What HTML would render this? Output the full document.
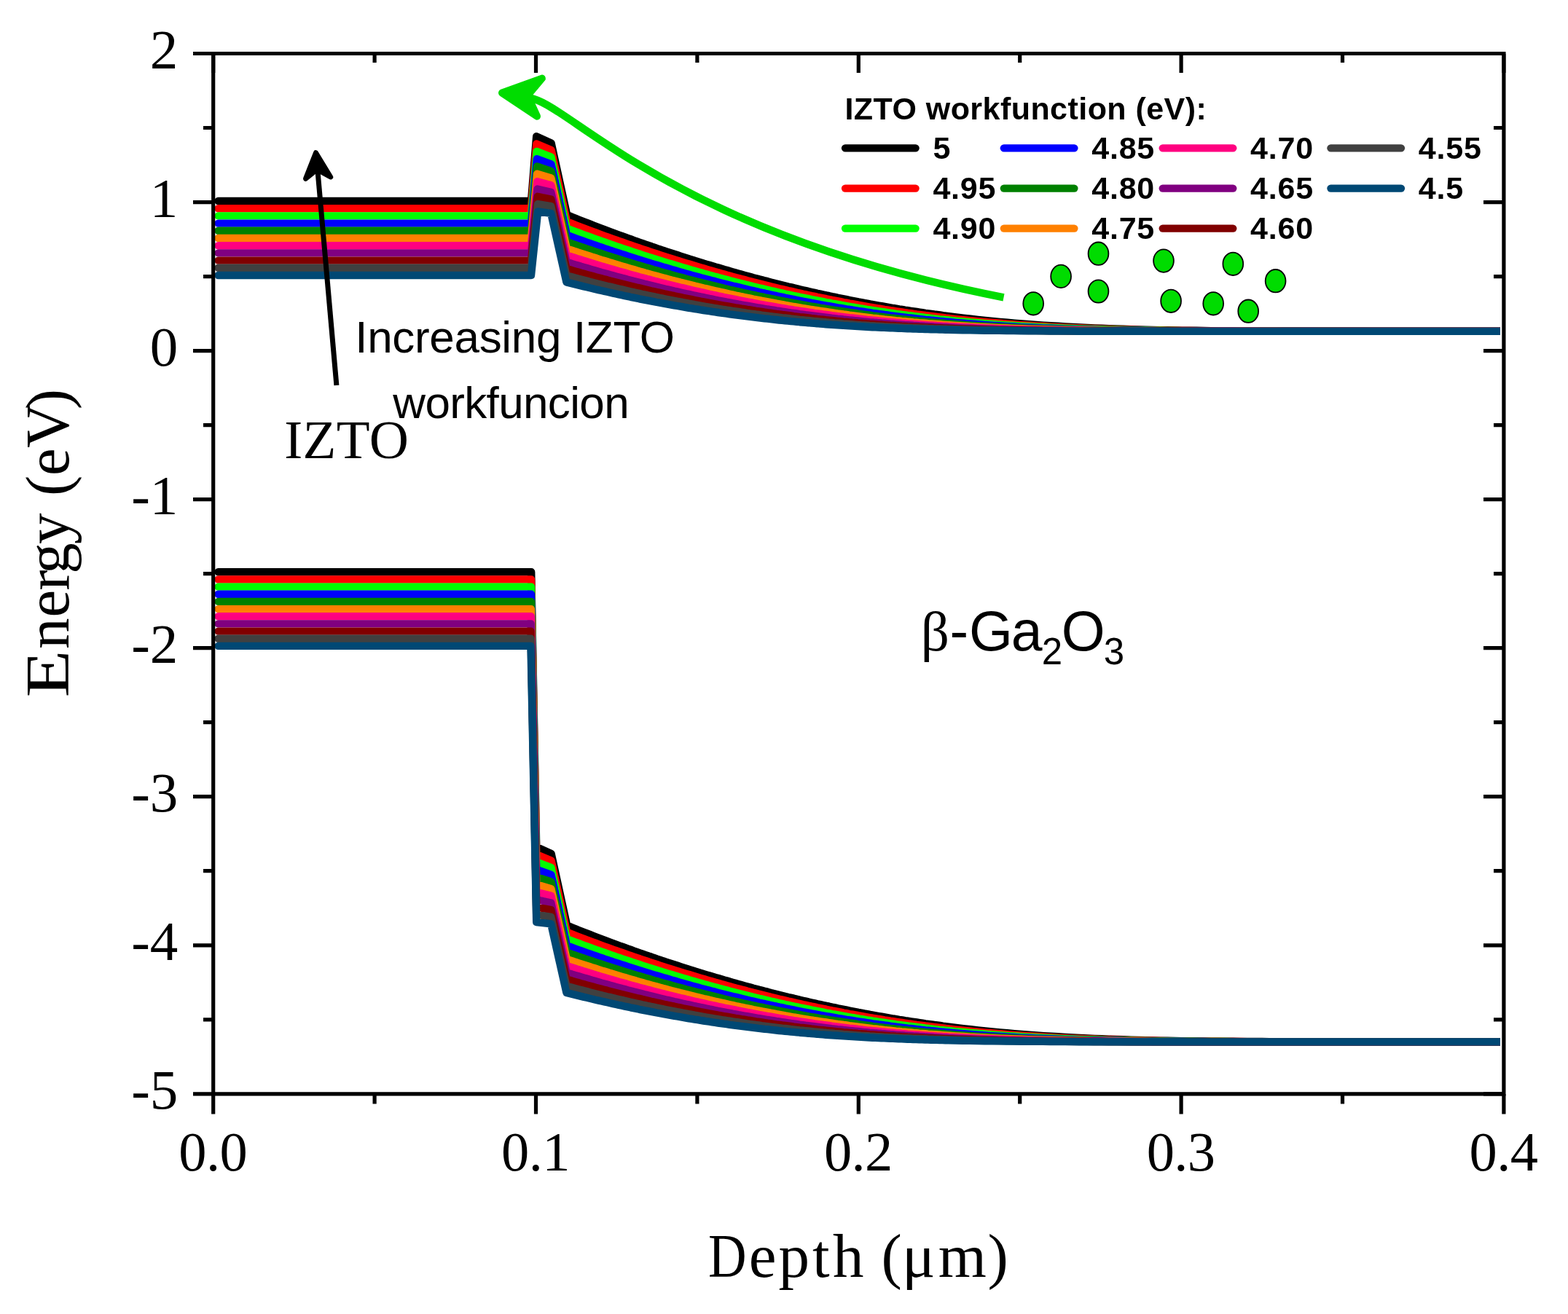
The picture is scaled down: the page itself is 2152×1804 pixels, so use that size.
<!DOCTYPE html><html><head><meta charset="utf-8"><title>IZTO band diagram</title><style>html,body{margin:0;padding:0;background:#fff;width:2152px;height:1804px;overflow:hidden}svg{display:block}.ser{font-family:"Liberation Serif","Times New Roman",serif}.san{font-family:"Liberation Sans",Arial,sans-serif}</style></head><body>
<svg width="2152" height="1804" viewBox="0 0 2152 1804">
<rect width="2152" height="1804" fill="#fff"/>
<defs><clipPath id="pc"><rect x="200" y="60" width="1859" height="1440"/></clipPath></defs>
<g clip-path="url(#pc)" fill="none" stroke-width="10.4" stroke-linecap="round" stroke-linejoin="round">
<path stroke="#000000" d="M299.5,276.0 L729.0,276.0 L736.2,187.2 L756.6,196.4 L778.2,295.1 L782.2,296.7 L786.2,298.3 L790.2,299.9 L794.2,301.5 L798.2,303.1 L802.2,304.6 L806.2,306.2 L810.2,307.7 L814.2,309.3 L818.2,310.8 L822.2,312.3 L826.2,313.8 L830.2,315.4 L834.2,316.9 L838.2,318.3 L842.2,319.8 L846.2,321.3 L850.2,322.8 L854.2,324.2 L858.2,325.7 L862.2,327.1 L866.2,328.5 L870.2,330.0 L874.2,331.4 L878.2,332.8 L882.2,334.2 L886.2,335.6 L890.2,337.0 L894.2,338.3 L898.2,339.7 L902.2,341.1 L906.2,342.4 L910.2,343.8 L914.2,345.1 L918.2,346.4 L922.2,347.7 L926.2,349.0 L930.2,350.3 L934.2,351.6 L938.2,352.9 L942.2,354.2 L946.2,355.5 L950.2,356.7 L954.2,358.0 L958.2,359.2 L962.2,360.4 L966.2,361.7 L970.2,362.9 L974.2,364.1 L978.2,365.3 L982.2,366.5 L986.2,367.6 L990.2,368.8 L994.2,370.0 L998.2,371.1 L1002.2,372.3 L1006.2,373.4 L1010.2,374.6 L1014.2,375.7 L1018.2,376.8 L1022.2,377.9 L1026.2,379.0 L1030.2,380.1 L1034.2,381.2 L1038.2,382.2 L1042.2,383.3 L1046.2,384.3 L1050.2,385.4 L1054.2,386.4 L1058.2,387.5 L1062.2,388.5 L1066.2,389.5 L1070.2,390.5 L1074.2,391.5 L1078.2,392.5 L1082.2,393.5 L1086.2,394.4 L1090.2,395.4 L1094.2,396.3 L1098.2,397.3 L1102.2,398.2 L1106.2,399.1 L1110.2,400.1 L1114.2,401.0 L1118.2,401.9 L1122.2,402.8 L1126.2,403.6 L1130.2,404.5 L1134.2,405.4 L1138.2,406.2 L1142.2,407.1 L1146.2,407.9 L1150.2,408.8 L1154.2,409.6 L1158.2,410.4 L1162.2,411.2 L1166.2,412.0 L1170.2,412.8 L1174.2,413.6 L1178.2,414.4 L1182.2,415.1 L1186.2,415.9 L1190.2,416.6 L1194.2,417.4 L1198.2,418.1 L1202.2,418.8 L1206.2,419.5 L1210.2,420.2 L1214.2,420.9 L1218.2,421.6 L1222.2,422.3 L1226.2,423.0 L1230.2,423.6 L1234.2,424.3 L1238.2,424.9 L1242.2,425.6 L1246.2,426.2 L1250.2,426.8 L1254.2,427.4 L1258.2,428.0 L1262.2,428.6 L1266.2,429.2 L1270.2,429.8 L1274.2,430.3 L1278.2,430.9 L1282.2,431.5 L1286.2,432.0 L1290.2,432.5 L1294.2,433.1 L1298.2,433.6 L1302.2,434.1 L1312.2,435.4 L1322.2,436.6 L1332.2,437.7 L1342.2,438.8 L1352.2,439.8 L1362.2,440.8 L1372.2,441.8 L1382.2,442.7 L1392.2,443.6 L1402.2,444.4 L1412.2,445.2 L1422.2,445.9 L1432.2,446.6 L1442.2,447.2 L1452.2,447.8 L1462.2,448.4 L1472.2,449.0 L1482.2,449.5 L1492.2,449.9 L1502.2,450.4 L1512.2,450.8 L1522.2,451.1 L1532.2,451.5 L1542.2,451.8 L1552.2,452.1 L1562.2,452.4 L1572.2,452.6 L1582.2,452.9 L1592.2,453.1 L1602.2,453.2 L1612.2,453.4 L1622.2,453.6 L1632.2,453.7 L1642.2,453.8 L1652.2,454.0 L1662.2,454.1 L1672.2,454.2 L1682.2,454.2 L1692.2,454.3 L1702.2,454.4 L1712.2,454.4 L1722.2,454.5 L1732.2,454.5 L1742.2,454.6 L1752.2,454.6 L1762.2,454.7 L1772.2,454.7 L1782.2,454.7 L1792.2,454.7 L1802.2,454.8 L1812.2,454.8 L1822.2,454.8 L1832.2,454.8 L1842.2,454.8 L1852.2,454.8 L1862.2,454.8 L1872.2,454.8 L1882.2,454.9 L1892.2,454.9 L1902.2,454.9 L1912.2,454.9 L1922.2,454.9 L1932.2,454.9 L1942.2,454.9 L1952.2,454.9 L1962.2,454.9 L1972.2,454.9 L1982.2,454.9 L1992.2,454.9 L2002.2,454.9 L2012.2,454.9 L2022.2,454.9 L2032.2,454.9 L2042.2,454.9 L2052.2,454.9 L2062.2,454.9 L2072.2,454.9"/>
<path stroke="#000000" d="M299.5,785.3 L729.2,785.3 L736.2,1162.7 L756.6,1171.9 L778.2,1270.6 L782.2,1272.2 L786.2,1273.8 L790.2,1275.4 L794.2,1277.0 L798.2,1278.6 L802.2,1280.1 L806.2,1281.7 L810.2,1283.2 L814.2,1284.8 L818.2,1286.3 L822.2,1287.8 L826.2,1289.3 L830.2,1290.9 L834.2,1292.4 L838.2,1293.8 L842.2,1295.3 L846.2,1296.8 L850.2,1298.3 L854.2,1299.7 L858.2,1301.2 L862.2,1302.6 L866.2,1304.0 L870.2,1305.5 L874.2,1306.9 L878.2,1308.3 L882.2,1309.7 L886.2,1311.1 L890.2,1312.5 L894.2,1313.8 L898.2,1315.2 L902.2,1316.6 L906.2,1317.9 L910.2,1319.3 L914.2,1320.6 L918.2,1321.9 L922.2,1323.2 L926.2,1324.5 L930.2,1325.8 L934.2,1327.1 L938.2,1328.4 L942.2,1329.7 L946.2,1331.0 L950.2,1332.2 L954.2,1333.5 L958.2,1334.7 L962.2,1335.9 L966.2,1337.2 L970.2,1338.4 L974.2,1339.6 L978.2,1340.8 L982.2,1342.0 L986.2,1343.1 L990.2,1344.3 L994.2,1345.5 L998.2,1346.6 L1002.2,1347.8 L1006.2,1348.9 L1010.2,1350.1 L1014.2,1351.2 L1018.2,1352.3 L1022.2,1353.4 L1026.2,1354.5 L1030.2,1355.6 L1034.2,1356.7 L1038.2,1357.7 L1042.2,1358.8 L1046.2,1359.8 L1050.2,1360.9 L1054.2,1361.9 L1058.2,1363.0 L1062.2,1364.0 L1066.2,1365.0 L1070.2,1366.0 L1074.2,1367.0 L1078.2,1368.0 L1082.2,1369.0 L1086.2,1369.9 L1090.2,1370.9 L1094.2,1371.8 L1098.2,1372.8 L1102.2,1373.7 L1106.2,1374.6 L1110.2,1375.6 L1114.2,1376.5 L1118.2,1377.4 L1122.2,1378.3 L1126.2,1379.1 L1130.2,1380.0 L1134.2,1380.9 L1138.2,1381.7 L1142.2,1382.6 L1146.2,1383.4 L1150.2,1384.3 L1154.2,1385.1 L1158.2,1385.9 L1162.2,1386.7 L1166.2,1387.5 L1170.2,1388.3 L1174.2,1389.1 L1178.2,1389.9 L1182.2,1390.6 L1186.2,1391.4 L1190.2,1392.1 L1194.2,1392.9 L1198.2,1393.6 L1202.2,1394.3 L1206.2,1395.0 L1210.2,1395.7 L1214.2,1396.4 L1218.2,1397.1 L1222.2,1397.8 L1226.2,1398.5 L1230.2,1399.1 L1234.2,1399.8 L1238.2,1400.4 L1242.2,1401.1 L1246.2,1401.7 L1250.2,1402.3 L1254.2,1402.9 L1258.2,1403.5 L1262.2,1404.1 L1266.2,1404.7 L1270.2,1405.3 L1274.2,1405.8 L1278.2,1406.4 L1282.2,1407.0 L1286.2,1407.5 L1290.2,1408.0 L1294.2,1408.6 L1298.2,1409.1 L1302.2,1409.6 L1312.2,1410.9 L1322.2,1412.1 L1332.2,1413.2 L1342.2,1414.3 L1352.2,1415.3 L1362.2,1416.3 L1372.2,1417.3 L1382.2,1418.2 L1392.2,1419.1 L1402.2,1419.9 L1412.2,1420.7 L1422.2,1421.4 L1432.2,1422.1 L1442.2,1422.7 L1452.2,1423.3 L1462.2,1423.9 L1472.2,1424.5 L1482.2,1425.0 L1492.2,1425.4 L1502.2,1425.9 L1512.2,1426.3 L1522.2,1426.6 L1532.2,1427.0 L1542.2,1427.3 L1552.2,1427.6 L1562.2,1427.9 L1572.2,1428.1 L1582.2,1428.4 L1592.2,1428.6 L1602.2,1428.7 L1612.2,1428.9 L1622.2,1429.1 L1632.2,1429.2 L1642.2,1429.3 L1652.2,1429.5 L1662.2,1429.6 L1672.2,1429.7 L1682.2,1429.7 L1692.2,1429.8 L1702.2,1429.9 L1712.2,1429.9 L1722.2,1430.0 L1732.2,1430.0 L1742.2,1430.1 L1752.2,1430.1 L1762.2,1430.2 L1772.2,1430.2 L1782.2,1430.2 L1792.2,1430.2 L1802.2,1430.3 L1812.2,1430.3 L1822.2,1430.3 L1832.2,1430.3 L1842.2,1430.3 L1852.2,1430.3 L1862.2,1430.3 L1872.2,1430.3 L1882.2,1430.4 L1892.2,1430.4 L1902.2,1430.4 L1912.2,1430.4 L1922.2,1430.4 L1932.2,1430.4 L1942.2,1430.4 L1952.2,1430.4 L1962.2,1430.4 L1972.2,1430.4 L1982.2,1430.4 L1992.2,1430.4 L2002.2,1430.4 L2012.2,1430.4 L2022.2,1430.4 L2032.2,1430.4 L2042.2,1430.4 L2052.2,1430.4 L2062.2,1430.4 L2072.2,1430.4"/>
<path stroke="#FF0000" d="M299.5,286.2 L729.0,286.2 L736.4,197.5 L756.6,206.0 L778.1,304.3 L782.1,305.9 L786.1,307.4 L790.1,309.0 L794.1,310.5 L798.1,312.0 L802.1,313.6 L806.1,315.1 L810.1,316.6 L814.1,318.1 L818.1,319.5 L822.1,321.0 L826.1,322.5 L830.1,324.0 L834.1,325.4 L838.1,326.8 L842.1,328.3 L846.1,329.7 L850.1,331.1 L854.1,332.5 L858.1,333.9 L862.1,335.3 L866.1,336.7 L870.1,338.1 L874.1,339.5 L878.1,340.8 L882.1,342.2 L886.1,343.5 L890.1,344.8 L894.1,346.2 L898.1,347.5 L902.1,348.8 L906.1,350.1 L910.1,351.4 L914.1,352.7 L918.1,353.9 L922.1,355.2 L926.1,356.5 L930.1,357.7 L934.1,359.0 L938.1,360.2 L942.1,361.4 L946.1,362.6 L950.1,363.8 L954.1,365.0 L958.1,366.2 L962.1,367.4 L966.1,368.6 L970.1,369.8 L974.1,370.9 L978.1,372.1 L982.1,373.2 L986.1,374.3 L990.1,375.5 L994.1,376.6 L998.1,377.7 L1002.1,378.8 L1006.1,379.9 L1010.1,381.0 L1014.1,382.0 L1018.1,383.1 L1022.1,384.1 L1026.1,385.2 L1030.1,386.2 L1034.1,387.3 L1038.1,388.3 L1042.1,389.3 L1046.1,390.3 L1050.1,391.3 L1054.1,392.3 L1058.1,393.3 L1062.1,394.2 L1066.1,395.2 L1070.1,396.2 L1074.1,397.1 L1078.1,398.0 L1082.1,399.0 L1086.1,399.9 L1090.1,400.8 L1094.1,401.7 L1098.1,402.6 L1102.1,403.5 L1106.1,404.3 L1110.1,405.2 L1114.1,406.1 L1118.1,406.9 L1122.1,407.8 L1126.1,408.6 L1130.1,409.4 L1134.1,410.2 L1138.1,411.1 L1142.1,411.9 L1146.1,412.6 L1150.1,413.4 L1154.1,414.2 L1158.1,415.0 L1162.1,415.7 L1166.1,416.5 L1170.1,417.2 L1174.1,417.9 L1178.1,418.7 L1182.1,419.4 L1186.1,420.1 L1190.1,420.8 L1194.1,421.5 L1198.1,422.2 L1202.1,422.8 L1206.1,423.5 L1210.1,424.1 L1214.1,424.8 L1218.1,425.4 L1222.1,426.1 L1226.1,426.7 L1230.1,427.3 L1234.1,427.9 L1238.1,428.5 L1242.1,429.1 L1246.1,429.7 L1250.1,430.2 L1254.1,430.8 L1258.1,431.4 L1262.1,431.9 L1266.1,432.4 L1270.1,433.0 L1274.1,433.5 L1278.1,434.0 L1282.1,434.5 L1286.1,435.0 L1290.1,435.5 L1294.1,436.0 L1298.1,436.5 L1302.1,436.9 L1312.1,438.1 L1322.1,439.1 L1332.1,440.2 L1342.1,441.2 L1352.1,442.1 L1362.1,443.0 L1372.1,443.8 L1382.1,444.6 L1392.1,445.4 L1402.1,446.1 L1412.1,446.8 L1422.1,447.4 L1432.1,448.0 L1442.1,448.6 L1452.1,449.1 L1462.1,449.6 L1472.1,450.1 L1482.1,450.5 L1492.1,450.9 L1502.1,451.3 L1512.1,451.6 L1522.1,451.9 L1532.1,452.2 L1542.1,452.5 L1552.1,452.7 L1562.1,452.9 L1572.1,453.1 L1582.1,453.3 L1592.1,453.5 L1602.1,453.6 L1612.1,453.8 L1622.1,453.9 L1632.1,454.0 L1642.1,454.1 L1652.1,454.2 L1662.1,454.3 L1672.1,454.3 L1682.1,454.4 L1692.1,454.5 L1702.1,454.5 L1712.1,454.6 L1722.1,454.6 L1732.1,454.6 L1742.1,454.7 L1752.1,454.7 L1762.1,454.7 L1772.1,454.7 L1782.1,454.8 L1792.1,454.8 L1802.1,454.8 L1812.1,454.8 L1822.1,454.8 L1832.1,454.8 L1842.1,454.8 L1852.1,454.8 L1862.1,454.9 L1872.1,454.9 L1882.1,454.9 L1892.1,454.9 L1902.1,454.9 L1912.1,454.9 L1922.1,454.9 L1932.1,454.9 L1942.1,454.9 L1952.1,454.9 L1962.1,454.9 L1972.1,454.9 L1982.1,454.9 L1992.1,454.9 L2002.1,454.9 L2012.1,454.9 L2022.1,454.9 L2032.1,454.9 L2042.1,454.9 L2052.1,454.9 L2062.1,454.9 L2072.1,454.9"/>
<path stroke="#FF0000" d="M299.5,795.5 L729.1,795.5 L736.2,1173.0 L756.6,1181.5 L778.1,1279.8 L782.1,1281.4 L786.1,1282.9 L790.1,1284.5 L794.1,1286.0 L798.1,1287.5 L802.1,1289.1 L806.1,1290.6 L810.1,1292.1 L814.1,1293.6 L818.1,1295.0 L822.1,1296.5 L826.1,1298.0 L830.1,1299.5 L834.1,1300.9 L838.1,1302.3 L842.1,1303.8 L846.1,1305.2 L850.1,1306.6 L854.1,1308.0 L858.1,1309.4 L862.1,1310.8 L866.1,1312.2 L870.1,1313.6 L874.1,1315.0 L878.1,1316.3 L882.1,1317.7 L886.1,1319.0 L890.1,1320.3 L894.1,1321.7 L898.1,1323.0 L902.1,1324.3 L906.1,1325.6 L910.1,1326.9 L914.1,1328.2 L918.1,1329.4 L922.1,1330.7 L926.1,1332.0 L930.1,1333.2 L934.1,1334.5 L938.1,1335.7 L942.1,1336.9 L946.1,1338.1 L950.1,1339.3 L954.1,1340.5 L958.1,1341.7 L962.1,1342.9 L966.1,1344.1 L970.1,1345.3 L974.1,1346.4 L978.1,1347.6 L982.1,1348.7 L986.1,1349.8 L990.1,1351.0 L994.1,1352.1 L998.1,1353.2 L1002.1,1354.3 L1006.1,1355.4 L1010.1,1356.5 L1014.1,1357.5 L1018.1,1358.6 L1022.1,1359.6 L1026.1,1360.7 L1030.1,1361.7 L1034.1,1362.8 L1038.1,1363.8 L1042.1,1364.8 L1046.1,1365.8 L1050.1,1366.8 L1054.1,1367.8 L1058.1,1368.8 L1062.1,1369.7 L1066.1,1370.7 L1070.1,1371.7 L1074.1,1372.6 L1078.1,1373.5 L1082.1,1374.5 L1086.1,1375.4 L1090.1,1376.3 L1094.1,1377.2 L1098.1,1378.1 L1102.1,1379.0 L1106.1,1379.8 L1110.1,1380.7 L1114.1,1381.6 L1118.1,1382.4 L1122.1,1383.3 L1126.1,1384.1 L1130.1,1384.9 L1134.1,1385.7 L1138.1,1386.6 L1142.1,1387.4 L1146.1,1388.1 L1150.1,1388.9 L1154.1,1389.7 L1158.1,1390.5 L1162.1,1391.2 L1166.1,1392.0 L1170.1,1392.7 L1174.1,1393.4 L1178.1,1394.2 L1182.1,1394.9 L1186.1,1395.6 L1190.1,1396.3 L1194.1,1397.0 L1198.1,1397.7 L1202.1,1398.3 L1206.1,1399.0 L1210.1,1399.6 L1214.1,1400.3 L1218.1,1400.9 L1222.1,1401.6 L1226.1,1402.2 L1230.1,1402.8 L1234.1,1403.4 L1238.1,1404.0 L1242.1,1404.6 L1246.1,1405.2 L1250.1,1405.7 L1254.1,1406.3 L1258.1,1406.9 L1262.1,1407.4 L1266.1,1407.9 L1270.1,1408.5 L1274.1,1409.0 L1278.1,1409.5 L1282.1,1410.0 L1286.1,1410.5 L1290.1,1411.0 L1294.1,1411.5 L1298.1,1412.0 L1302.1,1412.4 L1312.1,1413.6 L1322.1,1414.6 L1332.1,1415.7 L1342.1,1416.7 L1352.1,1417.6 L1362.1,1418.5 L1372.1,1419.3 L1382.1,1420.1 L1392.1,1420.9 L1402.1,1421.6 L1412.1,1422.3 L1422.1,1422.9 L1432.1,1423.5 L1442.1,1424.1 L1452.1,1424.6 L1462.1,1425.1 L1472.1,1425.6 L1482.1,1426.0 L1492.1,1426.4 L1502.1,1426.8 L1512.1,1427.1 L1522.1,1427.4 L1532.1,1427.7 L1542.1,1428.0 L1552.1,1428.2 L1562.1,1428.4 L1572.1,1428.6 L1582.1,1428.8 L1592.1,1429.0 L1602.1,1429.1 L1612.1,1429.3 L1622.1,1429.4 L1632.1,1429.5 L1642.1,1429.6 L1652.1,1429.7 L1662.1,1429.8 L1672.1,1429.8 L1682.1,1429.9 L1692.1,1430.0 L1702.1,1430.0 L1712.1,1430.1 L1722.1,1430.1 L1732.1,1430.1 L1742.1,1430.2 L1752.1,1430.2 L1762.1,1430.2 L1772.1,1430.2 L1782.1,1430.3 L1792.1,1430.3 L1802.1,1430.3 L1812.1,1430.3 L1822.1,1430.3 L1832.1,1430.3 L1842.1,1430.3 L1852.1,1430.3 L1862.1,1430.4 L1872.1,1430.4 L1882.1,1430.4 L1892.1,1430.4 L1902.1,1430.4 L1912.1,1430.4 L1922.1,1430.4 L1932.1,1430.4 L1942.1,1430.4 L1952.1,1430.4 L1962.1,1430.4 L1972.1,1430.4 L1982.1,1430.4 L1992.1,1430.4 L2002.1,1430.4 L2012.1,1430.4 L2022.1,1430.4 L2032.1,1430.4 L2042.1,1430.4 L2052.1,1430.4 L2062.1,1430.4 L2072.1,1430.4"/>
<path stroke="#00FF00" d="M299.5,296.4 L729.0,296.4 L736.6,207.9 L756.5,215.7 L778.0,313.6 L782.0,315.1 L786.0,316.6 L790.0,318.1 L794.0,319.5 L798.0,321.0 L802.0,322.5 L806.0,323.9 L810.0,325.4 L814.0,326.8 L818.0,328.3 L822.0,329.7 L826.0,331.1 L830.0,332.5 L834.0,333.9 L838.0,335.3 L842.0,336.7 L846.0,338.1 L850.0,339.4 L854.0,340.8 L858.0,342.2 L862.0,343.5 L866.0,344.8 L870.0,346.2 L874.0,347.5 L878.0,348.8 L882.0,350.1 L886.0,351.4 L890.0,352.7 L894.0,353.9 L898.0,355.2 L902.0,356.5 L906.0,357.7 L910.0,359.0 L914.0,360.2 L918.0,361.4 L922.0,362.6 L926.0,363.8 L930.0,365.0 L934.0,366.2 L938.0,367.4 L942.0,368.6 L946.0,369.8 L950.0,370.9 L954.0,372.1 L958.0,373.2 L962.0,374.3 L966.0,375.5 L970.0,376.6 L974.0,377.7 L978.0,378.8 L982.0,379.9 L986.0,380.9 L990.0,382.0 L994.0,383.1 L998.0,384.1 L1002.0,385.2 L1006.0,386.2 L1010.0,387.3 L1014.0,388.3 L1018.0,389.3 L1022.0,390.3 L1026.0,391.3 L1030.0,392.3 L1034.0,393.3 L1038.0,394.2 L1042.0,395.2 L1046.0,396.1 L1050.0,397.1 L1054.0,398.0 L1058.0,399.0 L1062.0,399.9 L1066.0,400.8 L1070.0,401.7 L1074.0,402.6 L1078.0,403.5 L1082.0,404.3 L1086.0,405.2 L1090.0,406.1 L1094.0,406.9 L1098.0,407.8 L1102.0,408.6 L1106.0,409.4 L1110.0,410.2 L1114.0,411.0 L1118.0,411.8 L1122.0,412.6 L1126.0,413.4 L1130.0,414.2 L1134.0,415.0 L1138.0,415.7 L1142.0,416.5 L1146.0,417.2 L1150.0,417.9 L1154.0,418.7 L1158.0,419.4 L1162.0,420.1 L1166.0,420.8 L1170.0,421.5 L1174.0,422.1 L1178.0,422.8 L1182.0,423.5 L1186.0,424.1 L1190.0,424.8 L1194.0,425.4 L1198.0,426.1 L1202.0,426.7 L1206.0,427.3 L1210.0,427.9 L1214.0,428.5 L1218.0,429.1 L1222.0,429.7 L1226.0,430.2 L1230.0,430.8 L1234.0,431.3 L1238.0,431.9 L1242.0,432.4 L1246.0,433.0 L1250.0,433.5 L1254.0,434.0 L1258.0,434.5 L1262.0,435.0 L1266.0,435.5 L1270.0,436.0 L1274.0,436.4 L1278.0,436.9 L1282.0,437.4 L1286.0,437.8 L1290.0,438.3 L1294.0,438.7 L1298.0,439.1 L1302.0,439.5 L1312.0,440.6 L1322.0,441.5 L1332.0,442.4 L1342.0,443.3 L1352.0,444.2 L1362.0,444.9 L1372.0,445.7 L1382.0,446.4 L1392.0,447.0 L1402.0,447.7 L1412.0,448.3 L1422.0,448.8 L1432.0,449.3 L1442.0,449.8 L1452.0,450.2 L1462.0,450.7 L1472.0,451.0 L1482.0,451.4 L1492.0,451.7 L1502.0,452.0 L1512.0,452.3 L1522.0,452.6 L1532.0,452.8 L1542.0,453.0 L1552.0,453.2 L1562.0,453.4 L1572.0,453.5 L1582.0,453.7 L1592.0,453.8 L1602.0,453.9 L1612.0,454.0 L1622.0,454.1 L1632.0,454.2 L1642.0,454.3 L1652.0,454.4 L1662.0,454.4 L1672.0,454.5 L1682.0,454.5 L1692.0,454.6 L1702.0,454.6 L1712.0,454.6 L1722.0,454.7 L1732.0,454.7 L1742.0,454.7 L1752.0,454.8 L1762.0,454.8 L1772.0,454.8 L1782.0,454.8 L1792.0,454.8 L1802.0,454.8 L1812.0,454.8 L1822.0,454.8 L1832.0,454.8 L1842.0,454.9 L1852.0,454.9 L1862.0,454.9 L1872.0,454.9 L1882.0,454.9 L1892.0,454.9 L1902.0,454.9 L1912.0,454.9 L1922.0,454.9 L1932.0,454.9 L1942.0,454.9 L1952.0,454.9 L1962.0,454.9 L1972.0,454.9 L1982.0,454.9 L1992.0,454.9 L2002.0,454.9 L2012.0,454.9 L2022.0,454.9 L2032.0,454.9 L2042.0,454.9 L2052.0,454.9 L2062.0,454.9 L2072.0,454.9"/>
<path stroke="#00FF00" d="M299.5,805.6 L729.1,805.6 L736.2,1183.4 L756.5,1191.2 L778.0,1289.1 L782.0,1290.6 L786.0,1292.1 L790.0,1293.6 L794.0,1295.0 L798.0,1296.5 L802.0,1298.0 L806.0,1299.4 L810.0,1300.9 L814.0,1302.3 L818.0,1303.8 L822.0,1305.2 L826.0,1306.6 L830.0,1308.0 L834.0,1309.4 L838.0,1310.8 L842.0,1312.2 L846.0,1313.6 L850.0,1314.9 L854.0,1316.3 L858.0,1317.7 L862.0,1319.0 L866.0,1320.3 L870.0,1321.7 L874.0,1323.0 L878.0,1324.3 L882.0,1325.6 L886.0,1326.9 L890.0,1328.2 L894.0,1329.4 L898.0,1330.7 L902.0,1332.0 L906.0,1333.2 L910.0,1334.5 L914.0,1335.7 L918.0,1336.9 L922.0,1338.1 L926.0,1339.3 L930.0,1340.5 L934.0,1341.7 L938.0,1342.9 L942.0,1344.1 L946.0,1345.3 L950.0,1346.4 L954.0,1347.6 L958.0,1348.7 L962.0,1349.8 L966.0,1351.0 L970.0,1352.1 L974.0,1353.2 L978.0,1354.3 L982.0,1355.4 L986.0,1356.4 L990.0,1357.5 L994.0,1358.6 L998.0,1359.6 L1002.0,1360.7 L1006.0,1361.7 L1010.0,1362.8 L1014.0,1363.8 L1018.0,1364.8 L1022.0,1365.8 L1026.0,1366.8 L1030.0,1367.8 L1034.0,1368.8 L1038.0,1369.7 L1042.0,1370.7 L1046.0,1371.6 L1050.0,1372.6 L1054.0,1373.5 L1058.0,1374.5 L1062.0,1375.4 L1066.0,1376.3 L1070.0,1377.2 L1074.0,1378.1 L1078.0,1379.0 L1082.0,1379.8 L1086.0,1380.7 L1090.0,1381.6 L1094.0,1382.4 L1098.0,1383.3 L1102.0,1384.1 L1106.0,1384.9 L1110.0,1385.7 L1114.0,1386.5 L1118.0,1387.3 L1122.0,1388.1 L1126.0,1388.9 L1130.0,1389.7 L1134.0,1390.5 L1138.0,1391.2 L1142.0,1392.0 L1146.0,1392.7 L1150.0,1393.4 L1154.0,1394.2 L1158.0,1394.9 L1162.0,1395.6 L1166.0,1396.3 L1170.0,1397.0 L1174.0,1397.6 L1178.0,1398.3 L1182.0,1399.0 L1186.0,1399.6 L1190.0,1400.3 L1194.0,1400.9 L1198.0,1401.6 L1202.0,1402.2 L1206.0,1402.8 L1210.0,1403.4 L1214.0,1404.0 L1218.0,1404.6 L1222.0,1405.2 L1226.0,1405.7 L1230.0,1406.3 L1234.0,1406.8 L1238.0,1407.4 L1242.0,1407.9 L1246.0,1408.5 L1250.0,1409.0 L1254.0,1409.5 L1258.0,1410.0 L1262.0,1410.5 L1266.0,1411.0 L1270.0,1411.5 L1274.0,1411.9 L1278.0,1412.4 L1282.0,1412.9 L1286.0,1413.3 L1290.0,1413.8 L1294.0,1414.2 L1298.0,1414.6 L1302.0,1415.0 L1312.0,1416.1 L1322.0,1417.0 L1332.0,1417.9 L1342.0,1418.8 L1352.0,1419.7 L1362.0,1420.4 L1372.0,1421.2 L1382.0,1421.9 L1392.0,1422.5 L1402.0,1423.2 L1412.0,1423.8 L1422.0,1424.3 L1432.0,1424.8 L1442.0,1425.3 L1452.0,1425.7 L1462.0,1426.2 L1472.0,1426.5 L1482.0,1426.9 L1492.0,1427.2 L1502.0,1427.5 L1512.0,1427.8 L1522.0,1428.1 L1532.0,1428.3 L1542.0,1428.5 L1552.0,1428.7 L1562.0,1428.9 L1572.0,1429.0 L1582.0,1429.2 L1592.0,1429.3 L1602.0,1429.4 L1612.0,1429.5 L1622.0,1429.6 L1632.0,1429.7 L1642.0,1429.8 L1652.0,1429.9 L1662.0,1429.9 L1672.0,1430.0 L1682.0,1430.0 L1692.0,1430.1 L1702.0,1430.1 L1712.0,1430.1 L1722.0,1430.2 L1732.0,1430.2 L1742.0,1430.2 L1752.0,1430.3 L1762.0,1430.3 L1772.0,1430.3 L1782.0,1430.3 L1792.0,1430.3 L1802.0,1430.3 L1812.0,1430.3 L1822.0,1430.3 L1832.0,1430.3 L1842.0,1430.4 L1852.0,1430.4 L1862.0,1430.4 L1872.0,1430.4 L1882.0,1430.4 L1892.0,1430.4 L1902.0,1430.4 L1912.0,1430.4 L1922.0,1430.4 L1932.0,1430.4 L1942.0,1430.4 L1952.0,1430.4 L1962.0,1430.4 L1972.0,1430.4 L1982.0,1430.4 L1992.0,1430.4 L2002.0,1430.4 L2012.0,1430.4 L2022.0,1430.4 L2032.0,1430.4 L2042.0,1430.4 L2052.0,1430.4 L2062.0,1430.4 L2072.0,1430.4"/>
<path stroke="#0000FF" d="M299.5,306.6 L729.0,306.6 L736.8,218.2 L756.5,225.3 L778.0,322.8 L782.0,324.2 L786.0,325.7 L790.0,327.1 L794.0,328.6 L798.0,330.0 L802.0,331.4 L806.0,332.8 L810.0,334.2 L814.0,335.6 L818.0,337.0 L822.0,338.4 L826.0,339.7 L830.0,341.1 L834.0,342.4 L838.0,343.8 L842.0,345.1 L846.0,346.4 L850.0,347.7 L854.0,349.1 L858.0,350.3 L862.0,351.6 L866.0,352.9 L870.0,354.2 L874.0,355.5 L878.0,356.7 L882.0,358.0 L886.0,359.2 L890.0,360.4 L894.0,361.7 L898.0,362.9 L902.0,364.1 L906.0,365.3 L910.0,366.5 L914.0,367.6 L918.0,368.8 L922.0,370.0 L926.0,371.1 L930.0,372.3 L934.0,373.4 L938.0,374.6 L942.0,375.7 L946.0,376.8 L950.0,377.9 L954.0,379.0 L958.0,380.1 L962.0,381.2 L966.0,382.2 L970.0,383.3 L974.0,384.3 L978.0,385.4 L982.0,386.4 L986.0,387.5 L990.0,388.5 L994.0,389.5 L998.0,390.5 L1002.0,391.5 L1006.0,392.5 L1010.0,393.4 L1014.0,394.4 L1018.0,395.4 L1022.0,396.3 L1026.0,397.3 L1030.0,398.2 L1034.0,399.1 L1038.0,400.0 L1042.0,401.0 L1046.0,401.9 L1050.0,402.7 L1054.0,403.6 L1058.0,404.5 L1062.0,405.4 L1066.0,406.2 L1070.0,407.1 L1074.0,407.9 L1078.0,408.8 L1082.0,409.6 L1086.0,410.4 L1090.0,411.2 L1094.0,412.0 L1098.0,412.8 L1102.0,413.6 L1106.0,414.3 L1110.0,415.1 L1114.0,415.9 L1118.0,416.6 L1122.0,417.3 L1126.0,418.1 L1130.0,418.8 L1134.0,419.5 L1138.0,420.2 L1142.0,420.9 L1146.0,421.6 L1150.0,422.3 L1154.0,422.9 L1158.0,423.6 L1162.0,424.3 L1166.0,424.9 L1170.0,425.5 L1174.0,426.2 L1178.0,426.8 L1182.0,427.4 L1186.0,428.0 L1190.0,428.6 L1194.0,429.2 L1198.0,429.8 L1202.0,430.3 L1206.0,430.9 L1210.0,431.4 L1214.0,432.0 L1218.0,432.5 L1222.0,433.1 L1226.0,433.6 L1230.0,434.1 L1234.0,434.6 L1238.0,435.1 L1242.0,435.6 L1246.0,436.1 L1250.0,436.5 L1254.0,437.0 L1258.0,437.5 L1262.0,437.9 L1266.0,438.3 L1270.0,438.8 L1274.0,439.2 L1278.0,439.6 L1282.0,440.0 L1286.0,440.4 L1290.0,440.8 L1294.0,441.2 L1298.0,441.6 L1302.0,442.0 L1312.0,442.9 L1322.0,443.7 L1332.0,444.5 L1342.0,445.3 L1352.0,446.0 L1362.0,446.7 L1372.0,447.3 L1382.0,448.0 L1392.0,448.5 L1402.0,449.1 L1412.0,449.5 L1422.0,450.0 L1432.0,450.4 L1442.0,450.8 L1452.0,451.2 L1462.0,451.6 L1472.0,451.9 L1482.0,452.2 L1492.0,452.4 L1502.0,452.7 L1512.0,452.9 L1522.0,453.1 L1532.0,453.3 L1542.0,453.5 L1552.0,453.6 L1562.0,453.7 L1572.0,453.9 L1582.0,454.0 L1592.0,454.1 L1602.0,454.2 L1612.0,454.3 L1622.0,454.3 L1632.0,454.4 L1642.0,454.5 L1652.0,454.5 L1662.0,454.6 L1672.0,454.6 L1682.0,454.6 L1692.0,454.7 L1702.0,454.7 L1712.0,454.7 L1722.0,454.7 L1732.0,454.8 L1742.0,454.8 L1752.0,454.8 L1762.0,454.8 L1772.0,454.8 L1782.0,454.8 L1792.0,454.8 L1802.0,454.8 L1812.0,454.9 L1822.0,454.9 L1832.0,454.9 L1842.0,454.9 L1852.0,454.9 L1862.0,454.9 L1872.0,454.9 L1882.0,454.9 L1892.0,454.9 L1902.0,454.9 L1912.0,454.9 L1922.0,454.9 L1932.0,454.9 L1942.0,454.9 L1952.0,454.9 L1962.0,454.9 L1972.0,454.9 L1982.0,454.9 L1992.0,454.9 L2002.0,454.9 L2012.0,454.9 L2022.0,454.9 L2032.0,454.9 L2042.0,454.9 L2052.0,454.9 L2062.0,454.9 L2072.0,454.9"/>
<path stroke="#0000FF" d="M299.5,815.8 L729.0,815.8 L736.2,1193.7 L756.5,1200.8 L778.0,1298.3 L782.0,1299.7 L786.0,1301.2 L790.0,1302.6 L794.0,1304.1 L798.0,1305.5 L802.0,1306.9 L806.0,1308.3 L810.0,1309.7 L814.0,1311.1 L818.0,1312.5 L822.0,1313.9 L826.0,1315.2 L830.0,1316.6 L834.0,1317.9 L838.0,1319.3 L842.0,1320.6 L846.0,1321.9 L850.0,1323.2 L854.0,1324.6 L858.0,1325.8 L862.0,1327.1 L866.0,1328.4 L870.0,1329.7 L874.0,1331.0 L878.0,1332.2 L882.0,1333.5 L886.0,1334.7 L890.0,1335.9 L894.0,1337.2 L898.0,1338.4 L902.0,1339.6 L906.0,1340.8 L910.0,1342.0 L914.0,1343.1 L918.0,1344.3 L922.0,1345.5 L926.0,1346.6 L930.0,1347.8 L934.0,1348.9 L938.0,1350.1 L942.0,1351.2 L946.0,1352.3 L950.0,1353.4 L954.0,1354.5 L958.0,1355.6 L962.0,1356.7 L966.0,1357.7 L970.0,1358.8 L974.0,1359.8 L978.0,1360.9 L982.0,1361.9 L986.0,1363.0 L990.0,1364.0 L994.0,1365.0 L998.0,1366.0 L1002.0,1367.0 L1006.0,1368.0 L1010.0,1368.9 L1014.0,1369.9 L1018.0,1370.9 L1022.0,1371.8 L1026.0,1372.8 L1030.0,1373.7 L1034.0,1374.6 L1038.0,1375.5 L1042.0,1376.5 L1046.0,1377.4 L1050.0,1378.2 L1054.0,1379.1 L1058.0,1380.0 L1062.0,1380.9 L1066.0,1381.7 L1070.0,1382.6 L1074.0,1383.4 L1078.0,1384.3 L1082.0,1385.1 L1086.0,1385.9 L1090.0,1386.7 L1094.0,1387.5 L1098.0,1388.3 L1102.0,1389.1 L1106.0,1389.8 L1110.0,1390.6 L1114.0,1391.4 L1118.0,1392.1 L1122.0,1392.8 L1126.0,1393.6 L1130.0,1394.3 L1134.0,1395.0 L1138.0,1395.7 L1142.0,1396.4 L1146.0,1397.1 L1150.0,1397.8 L1154.0,1398.4 L1158.0,1399.1 L1162.0,1399.8 L1166.0,1400.4 L1170.0,1401.0 L1174.0,1401.7 L1178.0,1402.3 L1182.0,1402.9 L1186.0,1403.5 L1190.0,1404.1 L1194.0,1404.7 L1198.0,1405.3 L1202.0,1405.8 L1206.0,1406.4 L1210.0,1406.9 L1214.0,1407.5 L1218.0,1408.0 L1222.0,1408.6 L1226.0,1409.1 L1230.0,1409.6 L1234.0,1410.1 L1238.0,1410.6 L1242.0,1411.1 L1246.0,1411.6 L1250.0,1412.0 L1254.0,1412.5 L1258.0,1413.0 L1262.0,1413.4 L1266.0,1413.8 L1270.0,1414.3 L1274.0,1414.7 L1278.0,1415.1 L1282.0,1415.5 L1286.0,1415.9 L1290.0,1416.3 L1294.0,1416.7 L1298.0,1417.1 L1302.0,1417.5 L1312.0,1418.4 L1322.0,1419.2 L1332.0,1420.0 L1342.0,1420.8 L1352.0,1421.5 L1362.0,1422.2 L1372.0,1422.8 L1382.0,1423.5 L1392.0,1424.0 L1402.0,1424.6 L1412.0,1425.0 L1422.0,1425.5 L1432.0,1425.9 L1442.0,1426.3 L1452.0,1426.7 L1462.0,1427.1 L1472.0,1427.4 L1482.0,1427.7 L1492.0,1427.9 L1502.0,1428.2 L1512.0,1428.4 L1522.0,1428.6 L1532.0,1428.8 L1542.0,1429.0 L1552.0,1429.1 L1562.0,1429.2 L1572.0,1429.4 L1582.0,1429.5 L1592.0,1429.6 L1602.0,1429.7 L1612.0,1429.8 L1622.0,1429.8 L1632.0,1429.9 L1642.0,1430.0 L1652.0,1430.0 L1662.0,1430.1 L1672.0,1430.1 L1682.0,1430.1 L1692.0,1430.2 L1702.0,1430.2 L1712.0,1430.2 L1722.0,1430.2 L1732.0,1430.3 L1742.0,1430.3 L1752.0,1430.3 L1762.0,1430.3 L1772.0,1430.3 L1782.0,1430.3 L1792.0,1430.3 L1802.0,1430.3 L1812.0,1430.4 L1822.0,1430.4 L1832.0,1430.4 L1842.0,1430.4 L1852.0,1430.4 L1862.0,1430.4 L1872.0,1430.4 L1882.0,1430.4 L1892.0,1430.4 L1902.0,1430.4 L1912.0,1430.4 L1922.0,1430.4 L1932.0,1430.4 L1942.0,1430.4 L1952.0,1430.4 L1962.0,1430.4 L1972.0,1430.4 L1982.0,1430.4 L1992.0,1430.4 L2002.0,1430.4 L2012.0,1430.4 L2022.0,1430.4 L2032.0,1430.4 L2042.0,1430.4 L2052.0,1430.4 L2062.0,1430.4 L2072.0,1430.4"/>
<path stroke="#008000" d="M299.5,316.8 L729.0,316.8 L737.0,228.5 L756.4,235.0 L777.9,332.0 L781.9,333.4 L785.9,334.8 L789.9,336.2 L793.9,337.6 L797.9,339.0 L801.9,340.3 L805.9,341.7 L809.9,343.0 L813.9,344.3 L817.9,345.7 L821.9,347.0 L825.9,348.3 L829.9,349.6 L833.9,350.9 L837.9,352.2 L841.9,353.5 L845.9,354.7 L849.9,356.0 L853.9,357.3 L857.9,358.5 L861.9,359.7 L865.9,361.0 L869.9,362.2 L873.9,363.4 L877.9,364.6 L881.9,365.8 L885.9,367.0 L889.9,368.1 L893.9,369.3 L897.9,370.5 L901.9,371.6 L905.9,372.8 L909.9,373.9 L913.9,375.0 L917.9,376.1 L921.9,377.3 L925.9,378.4 L929.9,379.5 L933.9,380.5 L937.9,381.6 L941.9,382.7 L945.9,383.7 L949.9,384.8 L953.9,385.8 L957.9,386.9 L961.9,387.9 L965.9,388.9 L969.9,389.9 L973.9,390.9 L977.9,391.9 L981.9,392.9 L985.9,393.9 L989.9,394.8 L993.9,395.8 L997.9,396.7 L1001.9,397.7 L1005.9,398.6 L1009.9,399.5 L1013.9,400.4 L1017.9,401.3 L1021.9,402.2 L1025.9,403.1 L1029.9,404.0 L1033.9,404.9 L1037.9,405.7 L1041.9,406.6 L1045.9,407.4 L1049.9,408.3 L1053.9,409.1 L1057.9,409.9 L1061.9,410.7 L1065.9,411.5 L1069.9,412.3 L1073.9,413.1 L1077.9,413.9 L1081.9,414.7 L1085.9,415.4 L1089.9,416.2 L1093.9,416.9 L1097.9,417.6 L1101.9,418.4 L1105.9,419.1 L1109.9,419.8 L1113.9,420.5 L1117.9,421.2 L1121.9,421.9 L1125.9,422.6 L1129.9,423.2 L1133.9,423.9 L1137.9,424.5 L1141.9,425.2 L1145.9,425.8 L1149.9,426.4 L1153.9,427.0 L1157.9,427.6 L1161.9,428.2 L1165.9,428.8 L1169.9,429.4 L1173.9,430.0 L1177.9,430.6 L1181.9,431.1 L1185.9,431.7 L1189.9,432.2 L1193.9,432.7 L1197.9,433.3 L1201.9,433.8 L1205.9,434.3 L1209.9,434.8 L1213.9,435.3 L1217.9,435.8 L1221.9,436.3 L1225.9,436.7 L1229.9,437.2 L1233.9,437.6 L1237.9,438.1 L1241.9,438.5 L1245.9,439.0 L1249.9,439.4 L1253.9,439.8 L1257.9,440.2 L1261.9,440.6 L1265.9,441.0 L1269.9,441.4 L1273.9,441.7 L1277.9,442.1 L1281.9,442.5 L1285.9,442.8 L1289.9,443.2 L1293.9,443.5 L1297.9,443.9 L1301.9,444.2 L1311.9,445.0 L1321.9,445.7 L1331.9,446.4 L1341.9,447.1 L1351.9,447.7 L1361.9,448.3 L1371.9,448.8 L1381.9,449.3 L1391.9,449.8 L1401.9,450.3 L1411.9,450.7 L1421.9,451.0 L1431.9,451.4 L1441.9,451.7 L1451.9,452.0 L1461.9,452.3 L1471.9,452.6 L1481.9,452.8 L1491.9,453.0 L1501.9,453.2 L1511.9,453.4 L1521.9,453.5 L1531.9,453.7 L1541.9,453.8 L1551.9,453.9 L1561.9,454.0 L1571.9,454.1 L1581.9,454.2 L1591.9,454.3 L1601.9,454.4 L1611.9,454.4 L1621.9,454.5 L1631.9,454.5 L1641.9,454.6 L1651.9,454.6 L1661.9,454.7 L1671.9,454.7 L1681.9,454.7 L1691.9,454.7 L1701.9,454.8 L1711.9,454.8 L1721.9,454.8 L1731.9,454.8 L1741.9,454.8 L1751.9,454.8 L1761.9,454.8 L1771.9,454.8 L1781.9,454.8 L1791.9,454.9 L1801.9,454.9 L1811.9,454.9 L1821.9,454.9 L1831.9,454.9 L1841.9,454.9 L1851.9,454.9 L1861.9,454.9 L1871.9,454.9 L1881.9,454.9 L1891.9,454.9 L1901.9,454.9 L1911.9,454.9 L1921.9,454.9 L1931.9,454.9 L1941.9,454.9 L1951.9,454.9 L1961.9,454.9 L1971.9,454.9 L1981.9,454.9 L1991.9,454.9 L2001.9,454.9 L2011.9,454.9 L2021.9,454.9 L2031.9,454.9 L2041.9,454.9 L2051.9,454.9 L2061.9,454.9 L2071.9,454.9"/>
<path stroke="#008000" d="M299.5,825.9 L728.9,825.9 L736.2,1204.0 L756.4,1210.5 L777.9,1307.5 L781.9,1308.9 L785.9,1310.3 L789.9,1311.7 L793.9,1313.1 L797.9,1314.5 L801.9,1315.8 L805.9,1317.2 L809.9,1318.5 L813.9,1319.8 L817.9,1321.2 L821.9,1322.5 L825.9,1323.8 L829.9,1325.1 L833.9,1326.4 L837.9,1327.7 L841.9,1329.0 L845.9,1330.2 L849.9,1331.5 L853.9,1332.8 L857.9,1334.0 L861.9,1335.2 L865.9,1336.5 L869.9,1337.7 L873.9,1338.9 L877.9,1340.1 L881.9,1341.3 L885.9,1342.5 L889.9,1343.6 L893.9,1344.8 L897.9,1346.0 L901.9,1347.1 L905.9,1348.3 L909.9,1349.4 L913.9,1350.5 L917.9,1351.6 L921.9,1352.8 L925.9,1353.9 L929.9,1355.0 L933.9,1356.0 L937.9,1357.1 L941.9,1358.2 L945.9,1359.2 L949.9,1360.3 L953.9,1361.3 L957.9,1362.4 L961.9,1363.4 L965.9,1364.4 L969.9,1365.4 L973.9,1366.4 L977.9,1367.4 L981.9,1368.4 L985.9,1369.4 L989.9,1370.3 L993.9,1371.3 L997.9,1372.2 L1001.9,1373.2 L1005.9,1374.1 L1009.9,1375.0 L1013.9,1375.9 L1017.9,1376.8 L1021.9,1377.7 L1025.9,1378.6 L1029.9,1379.5 L1033.9,1380.4 L1037.9,1381.2 L1041.9,1382.1 L1045.9,1382.9 L1049.9,1383.8 L1053.9,1384.6 L1057.9,1385.4 L1061.9,1386.2 L1065.9,1387.0 L1069.9,1387.8 L1073.9,1388.6 L1077.9,1389.4 L1081.9,1390.2 L1085.9,1390.9 L1089.9,1391.7 L1093.9,1392.4 L1097.9,1393.1 L1101.9,1393.9 L1105.9,1394.6 L1109.9,1395.3 L1113.9,1396.0 L1117.9,1396.7 L1121.9,1397.4 L1125.9,1398.1 L1129.9,1398.7 L1133.9,1399.4 L1137.9,1400.0 L1141.9,1400.7 L1145.9,1401.3 L1149.9,1401.9 L1153.9,1402.5 L1157.9,1403.1 L1161.9,1403.7 L1165.9,1404.3 L1169.9,1404.9 L1173.9,1405.5 L1177.9,1406.1 L1181.9,1406.6 L1185.9,1407.2 L1189.9,1407.7 L1193.9,1408.2 L1197.9,1408.8 L1201.9,1409.3 L1205.9,1409.8 L1209.9,1410.3 L1213.9,1410.8 L1217.9,1411.3 L1221.9,1411.8 L1225.9,1412.2 L1229.9,1412.7 L1233.9,1413.1 L1237.9,1413.6 L1241.9,1414.0 L1245.9,1414.5 L1249.9,1414.9 L1253.9,1415.3 L1257.9,1415.7 L1261.9,1416.1 L1265.9,1416.5 L1269.9,1416.9 L1273.9,1417.2 L1277.9,1417.6 L1281.9,1418.0 L1285.9,1418.3 L1289.9,1418.7 L1293.9,1419.0 L1297.9,1419.4 L1301.9,1419.7 L1311.9,1420.5 L1321.9,1421.2 L1331.9,1421.9 L1341.9,1422.6 L1351.9,1423.2 L1361.9,1423.8 L1371.9,1424.3 L1381.9,1424.8 L1391.9,1425.3 L1401.9,1425.8 L1411.9,1426.2 L1421.9,1426.5 L1431.9,1426.9 L1441.9,1427.2 L1451.9,1427.5 L1461.9,1427.8 L1471.9,1428.1 L1481.9,1428.3 L1491.9,1428.5 L1501.9,1428.7 L1511.9,1428.9 L1521.9,1429.0 L1531.9,1429.2 L1541.9,1429.3 L1551.9,1429.4 L1561.9,1429.5 L1571.9,1429.6 L1581.9,1429.7 L1591.9,1429.8 L1601.9,1429.9 L1611.9,1429.9 L1621.9,1430.0 L1631.9,1430.0 L1641.9,1430.1 L1651.9,1430.1 L1661.9,1430.2 L1671.9,1430.2 L1681.9,1430.2 L1691.9,1430.2 L1701.9,1430.3 L1711.9,1430.3 L1721.9,1430.3 L1731.9,1430.3 L1741.9,1430.3 L1751.9,1430.3 L1761.9,1430.3 L1771.9,1430.3 L1781.9,1430.3 L1791.9,1430.4 L1801.9,1430.4 L1811.9,1430.4 L1821.9,1430.4 L1831.9,1430.4 L1841.9,1430.4 L1851.9,1430.4 L1861.9,1430.4 L1871.9,1430.4 L1881.9,1430.4 L1891.9,1430.4 L1901.9,1430.4 L1911.9,1430.4 L1921.9,1430.4 L1931.9,1430.4 L1941.9,1430.4 L1951.9,1430.4 L1961.9,1430.4 L1971.9,1430.4 L1981.9,1430.4 L1991.9,1430.4 L2001.9,1430.4 L2011.9,1430.4 L2021.9,1430.4 L2031.9,1430.4 L2041.9,1430.4 L2051.9,1430.4 L2061.9,1430.4 L2071.9,1430.4"/>
<path stroke="#FF8000" d="M299.5,327.0 L729.0,327.0 L737.2,238.8 L756.4,244.6 L777.8,341.2 L781.8,342.6 L785.8,343.9 L789.8,345.3 L793.8,346.6 L797.8,347.9 L801.8,349.2 L805.8,350.5 L809.8,351.8 L813.8,353.1 L817.8,354.3 L821.8,355.6 L825.8,356.9 L829.8,358.1 L833.8,359.3 L837.8,360.6 L841.8,361.8 L845.8,363.0 L849.8,364.2 L853.8,365.4 L857.8,366.6 L861.8,367.8 L865.8,368.9 L869.8,370.1 L873.8,371.3 L877.8,372.4 L881.8,373.5 L885.8,374.7 L889.8,375.8 L893.8,376.9 L897.8,378.0 L901.8,379.1 L905.8,380.2 L909.8,381.3 L913.8,382.3 L917.8,383.4 L921.8,384.5 L925.8,385.5 L929.8,386.5 L933.8,387.6 L937.8,388.6 L941.8,389.6 L945.8,390.6 L949.8,391.6 L953.8,392.6 L957.8,393.5 L961.8,394.5 L965.8,395.5 L969.8,396.4 L973.8,397.4 L977.8,398.3 L981.8,399.2 L985.8,400.1 L989.8,401.0 L993.8,401.9 L997.8,402.8 L1001.8,403.7 L1005.8,404.6 L1009.8,405.5 L1013.8,406.3 L1017.8,407.2 L1021.8,408.0 L1025.8,408.8 L1029.8,409.6 L1033.8,410.5 L1037.8,411.3 L1041.8,412.1 L1045.8,412.9 L1049.8,413.6 L1053.8,414.4 L1057.8,415.2 L1061.8,415.9 L1065.8,416.7 L1069.8,417.4 L1073.8,418.1 L1077.8,418.9 L1081.8,419.6 L1085.8,420.3 L1089.8,421.0 L1093.8,421.6 L1097.8,422.3 L1101.8,423.0 L1105.8,423.7 L1109.8,424.3 L1113.8,425.0 L1117.8,425.6 L1121.8,426.2 L1125.8,426.8 L1129.8,427.4 L1133.8,428.0 L1137.8,428.6 L1141.8,429.2 L1145.8,429.8 L1149.8,430.4 L1153.8,430.9 L1157.8,431.5 L1161.8,432.0 L1165.8,432.6 L1169.8,433.1 L1173.8,433.6 L1177.8,434.1 L1181.8,434.6 L1185.8,435.1 L1189.8,435.6 L1193.8,436.1 L1197.8,436.6 L1201.8,437.0 L1205.8,437.5 L1209.8,437.9 L1213.8,438.4 L1217.8,438.8 L1221.8,439.2 L1225.8,439.6 L1229.8,440.1 L1233.8,440.5 L1237.8,440.9 L1241.8,441.2 L1245.8,441.6 L1249.8,442.0 L1253.8,442.4 L1257.8,442.7 L1261.8,443.1 L1265.8,443.4 L1269.8,443.7 L1273.8,444.1 L1277.8,444.4 L1281.8,444.7 L1285.8,445.0 L1289.8,445.3 L1293.8,445.6 L1297.8,445.9 L1301.8,446.2 L1311.8,446.9 L1321.8,447.5 L1331.8,448.1 L1341.8,448.6 L1351.8,449.2 L1361.8,449.7 L1371.8,450.1 L1381.8,450.5 L1391.8,450.9 L1401.8,451.3 L1411.8,451.6 L1421.8,451.9 L1431.8,452.2 L1441.8,452.5 L1451.8,452.7 L1461.8,452.9 L1471.8,453.1 L1481.8,453.3 L1491.8,453.5 L1501.8,453.6 L1511.8,453.8 L1521.8,453.9 L1531.8,454.0 L1541.8,454.1 L1551.8,454.2 L1561.8,454.3 L1571.8,454.3 L1581.8,454.4 L1591.8,454.5 L1601.8,454.5 L1611.8,454.6 L1621.8,454.6 L1631.8,454.6 L1641.8,454.7 L1651.8,454.7 L1661.8,454.7 L1671.8,454.7 L1681.8,454.8 L1691.8,454.8 L1701.8,454.8 L1711.8,454.8 L1721.8,454.8 L1731.8,454.8 L1741.8,454.8 L1751.8,454.8 L1761.8,454.9 L1771.8,454.9 L1781.8,454.9 L1791.8,454.9 L1801.8,454.9 L1811.8,454.9 L1821.8,454.9 L1831.8,454.9 L1841.8,454.9 L1851.8,454.9 L1861.8,454.9 L1871.8,454.9 L1881.8,454.9 L1891.8,454.9 L1901.8,454.9 L1911.8,454.9 L1921.8,454.9 L1931.8,454.9 L1941.8,454.9 L1951.8,454.9 L1961.8,454.9 L1971.8,454.9 L1981.8,454.9 L1991.8,454.9 L2001.8,454.9 L2011.8,454.9 L2021.8,454.9 L2031.8,454.9 L2041.8,454.9 L2051.8,454.9 L2061.8,454.9 L2071.8,454.9"/>
<path stroke="#FF8000" d="M299.5,836.1 L728.9,836.1 L736.2,1214.3 L756.4,1220.2 L777.8,1316.8 L781.8,1318.1 L785.8,1319.4 L789.8,1320.8 L793.8,1322.1 L797.8,1323.4 L801.8,1324.7 L805.8,1326.0 L809.8,1327.3 L813.8,1328.6 L817.8,1329.8 L821.8,1331.1 L825.8,1332.4 L829.8,1333.6 L833.8,1334.8 L837.8,1336.1 L841.8,1337.3 L845.8,1338.5 L849.8,1339.7 L853.8,1340.9 L857.8,1342.1 L861.8,1343.3 L865.8,1344.4 L869.8,1345.6 L873.8,1346.8 L877.8,1347.9 L881.8,1349.0 L885.8,1350.2 L889.8,1351.3 L893.8,1352.4 L897.8,1353.5 L901.8,1354.6 L905.8,1355.7 L909.8,1356.8 L913.8,1357.8 L917.8,1358.9 L921.8,1360.0 L925.8,1361.0 L929.8,1362.0 L933.8,1363.1 L937.8,1364.1 L941.8,1365.1 L945.8,1366.1 L949.8,1367.1 L953.8,1368.1 L957.8,1369.0 L961.8,1370.0 L965.8,1371.0 L969.8,1371.9 L973.8,1372.9 L977.8,1373.8 L981.8,1374.7 L985.8,1375.6 L989.8,1376.5 L993.8,1377.4 L997.8,1378.3 L1001.8,1379.2 L1005.8,1380.1 L1009.8,1381.0 L1013.8,1381.8 L1017.8,1382.7 L1021.8,1383.5 L1025.8,1384.3 L1029.8,1385.1 L1033.8,1386.0 L1037.8,1386.8 L1041.8,1387.6 L1045.8,1388.4 L1049.8,1389.1 L1053.8,1389.9 L1057.8,1390.7 L1061.8,1391.4 L1065.8,1392.2 L1069.8,1392.9 L1073.8,1393.6 L1077.8,1394.4 L1081.8,1395.1 L1085.8,1395.8 L1089.8,1396.5 L1093.8,1397.1 L1097.8,1397.8 L1101.8,1398.5 L1105.8,1399.2 L1109.8,1399.8 L1113.8,1400.5 L1117.8,1401.1 L1121.8,1401.7 L1125.8,1402.3 L1129.8,1402.9 L1133.8,1403.5 L1137.8,1404.1 L1141.8,1404.7 L1145.8,1405.3 L1149.8,1405.9 L1153.8,1406.4 L1157.8,1407.0 L1161.8,1407.5 L1165.8,1408.1 L1169.8,1408.6 L1173.8,1409.1 L1177.8,1409.6 L1181.8,1410.1 L1185.8,1410.6 L1189.8,1411.1 L1193.8,1411.6 L1197.8,1412.1 L1201.8,1412.5 L1205.8,1413.0 L1209.8,1413.4 L1213.8,1413.9 L1217.8,1414.3 L1221.8,1414.7 L1225.8,1415.1 L1229.8,1415.6 L1233.8,1416.0 L1237.8,1416.4 L1241.8,1416.7 L1245.8,1417.1 L1249.8,1417.5 L1253.8,1417.9 L1257.8,1418.2 L1261.8,1418.6 L1265.8,1418.9 L1269.8,1419.2 L1273.8,1419.6 L1277.8,1419.9 L1281.8,1420.2 L1285.8,1420.5 L1289.8,1420.8 L1293.8,1421.1 L1297.8,1421.4 L1301.8,1421.7 L1311.8,1422.4 L1321.8,1423.0 L1331.8,1423.6 L1341.8,1424.1 L1351.8,1424.7 L1361.8,1425.2 L1371.8,1425.6 L1381.8,1426.0 L1391.8,1426.4 L1401.8,1426.8 L1411.8,1427.1 L1421.8,1427.4 L1431.8,1427.7 L1441.8,1428.0 L1451.8,1428.2 L1461.8,1428.4 L1471.8,1428.6 L1481.8,1428.8 L1491.8,1429.0 L1501.8,1429.1 L1511.8,1429.3 L1521.8,1429.4 L1531.8,1429.5 L1541.8,1429.6 L1551.8,1429.7 L1561.8,1429.8 L1571.8,1429.8 L1581.8,1429.9 L1591.8,1430.0 L1601.8,1430.0 L1611.8,1430.1 L1621.8,1430.1 L1631.8,1430.1 L1641.8,1430.2 L1651.8,1430.2 L1661.8,1430.2 L1671.8,1430.2 L1681.8,1430.3 L1691.8,1430.3 L1701.8,1430.3 L1711.8,1430.3 L1721.8,1430.3 L1731.8,1430.3 L1741.8,1430.3 L1751.8,1430.3 L1761.8,1430.4 L1771.8,1430.4 L1781.8,1430.4 L1791.8,1430.4 L1801.8,1430.4 L1811.8,1430.4 L1821.8,1430.4 L1831.8,1430.4 L1841.8,1430.4 L1851.8,1430.4 L1861.8,1430.4 L1871.8,1430.4 L1881.8,1430.4 L1891.8,1430.4 L1901.8,1430.4 L1911.8,1430.4 L1921.8,1430.4 L1931.8,1430.4 L1941.8,1430.4 L1951.8,1430.4 L1961.8,1430.4 L1971.8,1430.4 L1981.8,1430.4 L1991.8,1430.4 L2001.8,1430.4 L2011.8,1430.4 L2021.8,1430.4 L2031.8,1430.4 L2041.8,1430.4 L2051.8,1430.4 L2061.8,1430.4 L2071.8,1430.4"/>
<path stroke="#FF0080" d="M299.5,337.2 L729.0,337.2 L737.4,249.2 L756.4,254.3 L777.7,350.5 L781.7,351.8 L785.7,353.0 L789.7,354.3 L793.7,355.6 L797.7,356.8 L801.7,358.1 L805.7,359.3 L809.7,360.5 L813.7,361.8 L817.7,363.0 L821.7,364.2 L825.7,365.4 L829.7,366.6 L833.7,367.7 L837.7,368.9 L841.7,370.1 L845.7,371.2 L849.7,372.4 L853.7,373.5 L857.7,374.6 L861.7,375.8 L865.7,376.9 L869.7,378.0 L873.7,379.1 L877.7,380.2 L881.7,381.2 L885.7,382.3 L889.7,383.4 L893.7,384.4 L897.7,385.5 L901.7,386.5 L905.7,387.5 L909.7,388.5 L913.7,389.6 L917.7,390.6 L921.7,391.5 L925.7,392.5 L929.7,393.5 L933.7,394.5 L937.7,395.4 L941.7,396.4 L945.7,397.3 L949.7,398.3 L953.7,399.2 L957.7,400.1 L961.7,401.0 L965.7,401.9 L969.7,402.8 L973.7,403.7 L977.7,404.6 L981.7,405.4 L985.7,406.3 L989.7,407.1 L993.7,408.0 L997.7,408.8 L1001.7,409.6 L1005.7,410.4 L1009.7,411.2 L1013.7,412.0 L1017.7,412.8 L1021.7,413.6 L1025.7,414.4 L1029.7,415.1 L1033.7,415.9 L1037.7,416.6 L1041.7,417.4 L1045.7,418.1 L1049.7,418.8 L1053.7,419.5 L1057.7,420.2 L1061.7,420.9 L1065.7,421.6 L1069.7,422.3 L1073.7,423.0 L1077.7,423.6 L1081.7,424.3 L1085.7,424.9 L1089.7,425.6 L1093.7,426.2 L1097.7,426.8 L1101.7,427.4 L1105.7,428.0 L1109.7,428.6 L1113.7,429.2 L1117.7,429.8 L1121.7,430.3 L1125.7,430.9 L1129.7,431.5 L1133.7,432.0 L1137.7,432.5 L1141.7,433.1 L1145.7,433.6 L1149.7,434.1 L1153.7,434.6 L1157.7,435.1 L1161.7,435.6 L1165.7,436.1 L1169.7,436.5 L1173.7,437.0 L1177.7,437.5 L1181.7,437.9 L1185.7,438.3 L1189.7,438.8 L1193.7,439.2 L1197.7,439.6 L1201.7,440.0 L1205.7,440.4 L1209.7,440.8 L1213.7,441.2 L1217.7,441.6 L1221.7,442.0 L1225.7,442.3 L1229.7,442.7 L1233.7,443.0 L1237.7,443.4 L1241.7,443.7 L1245.7,444.1 L1249.7,444.4 L1253.7,444.7 L1257.7,445.0 L1261.7,445.3 L1265.7,445.6 L1269.7,445.9 L1273.7,446.2 L1277.7,446.4 L1281.7,446.7 L1285.7,447.0 L1289.7,447.2 L1293.7,447.5 L1297.7,447.7 L1301.7,448.0 L1311.7,448.5 L1321.7,449.0 L1331.7,449.5 L1341.7,450.0 L1351.7,450.4 L1361.7,450.8 L1371.7,451.2 L1381.7,451.5 L1391.7,451.9 L1401.7,452.2 L1411.7,452.4 L1421.7,452.7 L1431.7,452.9 L1441.7,453.1 L1451.7,453.3 L1461.7,453.4 L1471.7,453.6 L1481.7,453.7 L1491.7,453.9 L1501.7,454.0 L1511.7,454.1 L1521.7,454.2 L1531.7,454.3 L1541.7,454.3 L1551.7,454.4 L1561.7,454.5 L1571.7,454.5 L1581.7,454.6 L1591.7,454.6 L1601.7,454.6 L1611.7,454.7 L1621.7,454.7 L1631.7,454.7 L1641.7,454.7 L1651.7,454.8 L1661.7,454.8 L1671.7,454.8 L1681.7,454.8 L1691.7,454.8 L1701.7,454.8 L1711.7,454.8 L1721.7,454.8 L1731.7,454.9 L1741.7,454.9 L1751.7,454.9 L1761.7,454.9 L1771.7,454.9 L1781.7,454.9 L1791.7,454.9 L1801.7,454.9 L1811.7,454.9 L1821.7,454.9 L1831.7,454.9 L1841.7,454.9 L1851.7,454.9 L1861.7,454.9 L1871.7,454.9 L1881.7,454.9 L1891.7,454.9 L1901.7,454.9 L1911.7,454.9 L1921.7,454.9 L1931.7,454.9 L1941.7,454.9 L1951.7,454.9 L1961.7,454.9 L1971.7,454.9 L1981.7,454.9 L1991.7,454.9 L2001.7,454.9 L2011.7,454.9 L2021.7,454.9 L2031.7,454.9 L2041.7,454.9 L2051.7,454.9 L2061.7,454.9 L2071.7,454.9"/>
<path stroke="#FF0080" d="M299.5,846.3 L728.8,846.3 L736.2,1224.7 L756.4,1229.8 L777.7,1326.0 L781.7,1327.3 L785.7,1328.5 L789.7,1329.8 L793.7,1331.1 L797.7,1332.3 L801.7,1333.6 L805.7,1334.8 L809.7,1336.0 L813.7,1337.3 L817.7,1338.5 L821.7,1339.7 L825.7,1340.9 L829.7,1342.1 L833.7,1343.2 L837.7,1344.4 L841.7,1345.6 L845.7,1346.7 L849.7,1347.9 L853.7,1349.0 L857.7,1350.1 L861.7,1351.3 L865.7,1352.4 L869.7,1353.5 L873.7,1354.6 L877.7,1355.7 L881.7,1356.7 L885.7,1357.8 L889.7,1358.9 L893.7,1359.9 L897.7,1361.0 L901.7,1362.0 L905.7,1363.0 L909.7,1364.0 L913.7,1365.1 L917.7,1366.1 L921.7,1367.0 L925.7,1368.0 L929.7,1369.0 L933.7,1370.0 L937.7,1370.9 L941.7,1371.9 L945.7,1372.8 L949.7,1373.8 L953.7,1374.7 L957.7,1375.6 L961.7,1376.5 L965.7,1377.4 L969.7,1378.3 L973.7,1379.2 L977.7,1380.1 L981.7,1380.9 L985.7,1381.8 L989.7,1382.6 L993.7,1383.5 L997.7,1384.3 L1001.7,1385.1 L1005.7,1385.9 L1009.7,1386.7 L1013.7,1387.5 L1017.7,1388.3 L1021.7,1389.1 L1025.7,1389.9 L1029.7,1390.6 L1033.7,1391.4 L1037.7,1392.1 L1041.7,1392.9 L1045.7,1393.6 L1049.7,1394.3 L1053.7,1395.0 L1057.7,1395.7 L1061.7,1396.4 L1065.7,1397.1 L1069.7,1397.8 L1073.7,1398.5 L1077.7,1399.1 L1081.7,1399.8 L1085.7,1400.4 L1089.7,1401.1 L1093.7,1401.7 L1097.7,1402.3 L1101.7,1402.9 L1105.7,1403.5 L1109.7,1404.1 L1113.7,1404.7 L1117.7,1405.3 L1121.7,1405.8 L1125.7,1406.4 L1129.7,1407.0 L1133.7,1407.5 L1137.7,1408.0 L1141.7,1408.6 L1145.7,1409.1 L1149.7,1409.6 L1153.7,1410.1 L1157.7,1410.6 L1161.7,1411.1 L1165.7,1411.6 L1169.7,1412.0 L1173.7,1412.5 L1177.7,1413.0 L1181.7,1413.4 L1185.7,1413.8 L1189.7,1414.3 L1193.7,1414.7 L1197.7,1415.1 L1201.7,1415.5 L1205.7,1415.9 L1209.7,1416.3 L1213.7,1416.7 L1217.7,1417.1 L1221.7,1417.5 L1225.7,1417.8 L1229.7,1418.2 L1233.7,1418.5 L1237.7,1418.9 L1241.7,1419.2 L1245.7,1419.6 L1249.7,1419.9 L1253.7,1420.2 L1257.7,1420.5 L1261.7,1420.8 L1265.7,1421.1 L1269.7,1421.4 L1273.7,1421.7 L1277.7,1421.9 L1281.7,1422.2 L1285.7,1422.5 L1289.7,1422.7 L1293.7,1423.0 L1297.7,1423.2 L1301.7,1423.5 L1311.7,1424.0 L1321.7,1424.5 L1331.7,1425.0 L1341.7,1425.5 L1351.7,1425.9 L1361.7,1426.3 L1371.7,1426.7 L1381.7,1427.0 L1391.7,1427.4 L1401.7,1427.7 L1411.7,1427.9 L1421.7,1428.2 L1431.7,1428.4 L1441.7,1428.6 L1451.7,1428.8 L1461.7,1428.9 L1471.7,1429.1 L1481.7,1429.2 L1491.7,1429.4 L1501.7,1429.5 L1511.7,1429.6 L1521.7,1429.7 L1531.7,1429.8 L1541.7,1429.8 L1551.7,1429.9 L1561.7,1430.0 L1571.7,1430.0 L1581.7,1430.1 L1591.7,1430.1 L1601.7,1430.1 L1611.7,1430.2 L1621.7,1430.2 L1631.7,1430.2 L1641.7,1430.2 L1651.7,1430.3 L1661.7,1430.3 L1671.7,1430.3 L1681.7,1430.3 L1691.7,1430.3 L1701.7,1430.3 L1711.7,1430.3 L1721.7,1430.3 L1731.7,1430.4 L1741.7,1430.4 L1751.7,1430.4 L1761.7,1430.4 L1771.7,1430.4 L1781.7,1430.4 L1791.7,1430.4 L1801.7,1430.4 L1811.7,1430.4 L1821.7,1430.4 L1831.7,1430.4 L1841.7,1430.4 L1851.7,1430.4 L1861.7,1430.4 L1871.7,1430.4 L1881.7,1430.4 L1891.7,1430.4 L1901.7,1430.4 L1911.7,1430.4 L1921.7,1430.4 L1931.7,1430.4 L1941.7,1430.4 L1951.7,1430.4 L1961.7,1430.4 L1971.7,1430.4 L1981.7,1430.4 L1991.7,1430.4 L2001.7,1430.4 L2011.7,1430.4 L2021.7,1430.4 L2031.7,1430.4 L2041.7,1430.4 L2051.7,1430.4 L2061.7,1430.4 L2071.7,1430.4"/>
<path stroke="#800080" d="M299.5,347.4 L729.0,347.4 L737.6,259.5 L756.3,263.9 L777.6,359.7 L781.6,360.9 L785.6,362.2 L789.6,363.4 L793.6,364.6 L797.6,365.8 L801.6,366.9 L805.6,368.1 L809.6,369.3 L813.6,370.4 L817.6,371.6 L821.6,372.7 L825.6,373.9 L829.6,375.0 L833.6,376.1 L837.6,377.2 L841.6,378.3 L845.6,379.4 L849.6,380.5 L853.6,381.6 L857.6,382.6 L861.6,383.7 L865.6,384.7 L869.6,385.8 L873.6,386.8 L877.6,387.8 L881.6,388.8 L885.6,389.9 L889.6,390.9 L893.6,391.8 L897.6,392.8 L901.6,393.8 L905.6,394.8 L909.6,395.7 L913.6,396.7 L917.6,397.6 L921.6,398.5 L925.6,399.5 L929.6,400.4 L933.6,401.3 L937.6,402.2 L941.6,403.1 L945.6,403.9 L949.6,404.8 L953.6,405.7 L957.6,406.5 L961.6,407.4 L965.6,408.2 L969.6,409.0 L973.6,409.9 L977.6,410.7 L981.6,411.5 L985.6,412.3 L989.6,413.0 L993.6,413.8 L997.6,414.6 L1001.6,415.3 L1005.6,416.1 L1009.6,416.8 L1013.6,417.6 L1017.6,418.3 L1021.6,419.0 L1025.6,419.7 L1029.6,420.4 L1033.6,421.1 L1037.6,421.8 L1041.6,422.5 L1045.6,423.1 L1049.6,423.8 L1053.6,424.5 L1057.6,425.1 L1061.6,425.7 L1065.6,426.4 L1069.6,427.0 L1073.6,427.6 L1077.6,428.2 L1081.6,428.8 L1085.6,429.4 L1089.6,429.9 L1093.6,430.5 L1097.6,431.1 L1101.6,431.6 L1105.6,432.2 L1109.6,432.7 L1113.6,433.2 L1117.6,433.7 L1121.6,434.2 L1125.6,434.7 L1129.6,435.2 L1133.6,435.7 L1137.6,436.2 L1141.6,436.7 L1145.6,437.1 L1149.6,437.6 L1153.6,438.0 L1157.6,438.5 L1161.6,438.9 L1165.6,439.3 L1169.6,439.7 L1173.6,440.1 L1177.6,440.5 L1181.6,440.9 L1185.6,441.3 L1189.6,441.7 L1193.6,442.1 L1197.6,442.4 L1201.6,442.8 L1205.6,443.1 L1209.6,443.5 L1213.6,443.8 L1217.6,444.1 L1221.6,444.5 L1225.6,444.8 L1229.6,445.1 L1233.6,445.4 L1237.6,445.7 L1241.6,446.0 L1245.6,446.2 L1249.6,446.5 L1253.6,446.8 L1257.6,447.0 L1261.6,447.3 L1265.6,447.5 L1269.6,447.8 L1273.6,448.0 L1277.6,448.2 L1281.6,448.5 L1285.6,448.7 L1289.6,448.9 L1293.6,449.1 L1297.6,449.3 L1301.6,449.5 L1311.6,450.0 L1321.6,450.4 L1331.6,450.8 L1341.6,451.2 L1351.6,451.5 L1361.6,451.8 L1371.6,452.1 L1381.6,452.4 L1391.6,452.6 L1401.6,452.9 L1411.6,453.1 L1421.6,453.3 L1431.6,453.4 L1441.6,453.6 L1451.6,453.7 L1461.6,453.9 L1471.6,454.0 L1481.6,454.1 L1491.6,454.2 L1501.6,454.2 L1511.6,454.3 L1521.6,454.4 L1531.6,454.4 L1541.6,454.5 L1551.6,454.5 L1561.6,454.6 L1571.6,454.6 L1581.6,454.7 L1591.6,454.7 L1601.6,454.7 L1611.6,454.7 L1621.6,454.8 L1631.6,454.8 L1641.6,454.8 L1651.6,454.8 L1661.6,454.8 L1671.6,454.8 L1681.6,454.8 L1691.6,454.8 L1701.6,454.9 L1711.6,454.9 L1721.6,454.9 L1731.6,454.9 L1741.6,454.9 L1751.6,454.9 L1761.6,454.9 L1771.6,454.9 L1781.6,454.9 L1791.6,454.9 L1801.6,454.9 L1811.6,454.9 L1821.6,454.9 L1831.6,454.9 L1841.6,454.9 L1851.6,454.9 L1861.6,454.9 L1871.6,454.9 L1881.6,454.9 L1891.6,454.9 L1901.6,454.9 L1911.6,454.9 L1921.6,454.9 L1931.6,454.9 L1941.6,454.9 L1951.6,454.9 L1961.6,454.9 L1971.6,454.9 L1981.6,454.9 L1991.6,454.9 L2001.6,454.9 L2011.6,454.9 L2021.6,454.9 L2031.6,454.9 L2041.6,454.9 L2051.6,454.9 L2061.6,454.9 L2071.6,454.9"/>
<path stroke="#800080" d="M299.5,856.4 L728.7,856.4 L736.2,1235.0 L756.3,1239.5 L777.6,1335.2 L781.6,1336.4 L785.6,1337.7 L789.6,1338.9 L793.6,1340.1 L797.6,1341.3 L801.6,1342.4 L805.6,1343.6 L809.6,1344.8 L813.6,1345.9 L817.6,1347.1 L821.6,1348.2 L825.6,1349.4 L829.6,1350.5 L833.6,1351.6 L837.6,1352.7 L841.6,1353.8 L845.6,1354.9 L849.6,1356.0 L853.6,1357.1 L857.6,1358.1 L861.6,1359.2 L865.6,1360.2 L869.6,1361.3 L873.6,1362.3 L877.6,1363.3 L881.6,1364.3 L885.6,1365.4 L889.6,1366.4 L893.6,1367.3 L897.6,1368.3 L901.6,1369.3 L905.6,1370.3 L909.6,1371.2 L913.6,1372.2 L917.6,1373.1 L921.6,1374.0 L925.6,1375.0 L929.6,1375.9 L933.6,1376.8 L937.6,1377.7 L941.6,1378.6 L945.6,1379.4 L949.6,1380.3 L953.6,1381.2 L957.6,1382.0 L961.6,1382.9 L965.6,1383.7 L969.6,1384.5 L973.6,1385.4 L977.6,1386.2 L981.6,1387.0 L985.6,1387.8 L989.6,1388.5 L993.6,1389.3 L997.6,1390.1 L1001.6,1390.8 L1005.6,1391.6 L1009.6,1392.3 L1013.6,1393.1 L1017.6,1393.8 L1021.6,1394.5 L1025.6,1395.2 L1029.6,1395.9 L1033.6,1396.6 L1037.6,1397.3 L1041.6,1398.0 L1045.6,1398.6 L1049.6,1399.3 L1053.6,1400.0 L1057.6,1400.6 L1061.6,1401.2 L1065.6,1401.9 L1069.6,1402.5 L1073.6,1403.1 L1077.6,1403.7 L1081.6,1404.3 L1085.6,1404.9 L1089.6,1405.4 L1093.6,1406.0 L1097.6,1406.6 L1101.6,1407.1 L1105.6,1407.7 L1109.6,1408.2 L1113.6,1408.7 L1117.6,1409.2 L1121.6,1409.7 L1125.6,1410.2 L1129.6,1410.7 L1133.6,1411.2 L1137.6,1411.7 L1141.6,1412.2 L1145.6,1412.6 L1149.6,1413.1 L1153.6,1413.5 L1157.6,1414.0 L1161.6,1414.4 L1165.6,1414.8 L1169.6,1415.2 L1173.6,1415.6 L1177.6,1416.0 L1181.6,1416.4 L1185.6,1416.8 L1189.6,1417.2 L1193.6,1417.6 L1197.6,1417.9 L1201.6,1418.3 L1205.6,1418.6 L1209.6,1419.0 L1213.6,1419.3 L1217.6,1419.6 L1221.6,1420.0 L1225.6,1420.3 L1229.6,1420.6 L1233.6,1420.9 L1237.6,1421.2 L1241.6,1421.5 L1245.6,1421.7 L1249.6,1422.0 L1253.6,1422.3 L1257.6,1422.5 L1261.6,1422.8 L1265.6,1423.0 L1269.6,1423.3 L1273.6,1423.5 L1277.6,1423.7 L1281.6,1424.0 L1285.6,1424.2 L1289.6,1424.4 L1293.6,1424.6 L1297.6,1424.8 L1301.6,1425.0 L1311.6,1425.5 L1321.6,1425.9 L1331.6,1426.3 L1341.6,1426.7 L1351.6,1427.0 L1361.6,1427.3 L1371.6,1427.6 L1381.6,1427.9 L1391.6,1428.1 L1401.6,1428.4 L1411.6,1428.6 L1421.6,1428.8 L1431.6,1428.9 L1441.6,1429.1 L1451.6,1429.2 L1461.6,1429.4 L1471.6,1429.5 L1481.6,1429.6 L1491.6,1429.7 L1501.6,1429.7 L1511.6,1429.8 L1521.6,1429.9 L1531.6,1429.9 L1541.6,1430.0 L1551.6,1430.0 L1561.6,1430.1 L1571.6,1430.1 L1581.6,1430.2 L1591.6,1430.2 L1601.6,1430.2 L1611.6,1430.2 L1621.6,1430.3 L1631.6,1430.3 L1641.6,1430.3 L1651.6,1430.3 L1661.6,1430.3 L1671.6,1430.3 L1681.6,1430.3 L1691.6,1430.3 L1701.6,1430.4 L1711.6,1430.4 L1721.6,1430.4 L1731.6,1430.4 L1741.6,1430.4 L1751.6,1430.4 L1761.6,1430.4 L1771.6,1430.4 L1781.6,1430.4 L1791.6,1430.4 L1801.6,1430.4 L1811.6,1430.4 L1821.6,1430.4 L1831.6,1430.4 L1841.6,1430.4 L1851.6,1430.4 L1861.6,1430.4 L1871.6,1430.4 L1881.6,1430.4 L1891.6,1430.4 L1901.6,1430.4 L1911.6,1430.4 L1921.6,1430.4 L1931.6,1430.4 L1941.6,1430.4 L1951.6,1430.4 L1961.6,1430.4 L1971.6,1430.4 L1981.6,1430.4 L1991.6,1430.4 L2001.6,1430.4 L2011.6,1430.4 L2021.6,1430.4 L2031.6,1430.4 L2041.6,1430.4 L2051.6,1430.4 L2061.6,1430.4 L2071.6,1430.4"/>
<path stroke="#800000" d="M299.5,357.6 L729.0,357.6 L737.8,269.8 L756.3,273.6 L777.6,368.9 L781.6,370.1 L785.6,371.3 L789.6,372.4 L793.6,373.5 L797.6,374.7 L801.6,375.8 L805.6,376.9 L809.6,378.0 L813.6,379.1 L817.6,380.2 L821.6,381.2 L825.6,382.3 L829.6,383.4 L833.6,384.4 L837.6,385.5 L841.6,386.5 L845.6,387.5 L849.6,388.5 L853.6,389.5 L857.6,390.5 L861.6,391.5 L865.6,392.5 L869.6,393.5 L873.6,394.5 L877.6,395.4 L881.6,396.4 L885.6,397.3 L889.6,398.2 L893.6,399.2 L897.6,400.1 L901.6,401.0 L905.6,401.9 L909.6,402.8 L913.6,403.7 L917.6,404.5 L921.6,405.4 L925.6,406.2 L929.6,407.1 L933.6,407.9 L937.6,408.8 L941.6,409.6 L945.6,410.4 L949.6,411.2 L953.6,412.0 L957.6,412.8 L961.6,413.6 L965.6,414.3 L969.6,415.1 L973.6,415.9 L977.6,416.6 L981.6,417.3 L985.6,418.1 L989.6,418.8 L993.6,419.5 L997.6,420.2 L1001.6,420.9 L1005.6,421.6 L1009.6,422.3 L1013.6,422.9 L1017.6,423.6 L1021.6,424.2 L1025.6,424.9 L1029.6,425.5 L1033.6,426.1 L1037.6,426.8 L1041.6,427.4 L1045.6,428.0 L1049.6,428.6 L1053.6,429.2 L1057.6,429.7 L1061.6,430.3 L1065.6,430.9 L1069.6,431.4 L1073.6,432.0 L1077.6,432.5 L1081.6,433.0 L1085.6,433.5 L1089.6,434.1 L1093.6,434.6 L1097.6,435.1 L1101.6,435.5 L1105.6,436.0 L1109.6,436.5 L1113.6,437.0 L1117.6,437.4 L1121.6,437.9 L1125.6,438.3 L1129.6,438.7 L1133.6,439.2 L1137.6,439.6 L1141.6,440.0 L1145.6,440.4 L1149.6,440.8 L1153.6,441.2 L1157.6,441.6 L1161.6,441.9 L1165.6,442.3 L1169.6,442.7 L1173.6,443.0 L1177.6,443.4 L1181.6,443.7 L1185.6,444.0 L1189.6,444.3 L1193.6,444.7 L1197.6,445.0 L1201.6,445.3 L1205.6,445.6 L1209.6,445.8 L1213.6,446.1 L1217.6,446.4 L1221.6,446.7 L1225.6,446.9 L1229.6,447.2 L1233.6,447.4 L1237.6,447.7 L1241.6,447.9 L1245.6,448.2 L1249.6,448.4 L1253.6,448.6 L1257.6,448.8 L1261.6,449.0 L1265.6,449.2 L1269.6,449.4 L1273.6,449.6 L1277.6,449.8 L1281.6,450.0 L1285.6,450.2 L1289.6,450.3 L1293.6,450.5 L1297.6,450.7 L1301.6,450.8 L1311.6,451.2 L1321.6,451.5 L1331.6,451.8 L1341.6,452.1 L1351.6,452.4 L1361.6,452.7 L1371.6,452.9 L1381.6,453.1 L1391.6,453.3 L1401.6,453.4 L1411.6,453.6 L1421.6,453.7 L1431.6,453.9 L1441.6,454.0 L1451.6,454.1 L1461.6,454.2 L1471.6,454.3 L1481.6,454.3 L1491.6,454.4 L1501.6,454.5 L1511.6,454.5 L1521.6,454.6 L1531.6,454.6 L1541.6,454.6 L1551.6,454.7 L1561.6,454.7 L1571.6,454.7 L1581.6,454.7 L1591.6,454.8 L1601.6,454.8 L1611.6,454.8 L1621.6,454.8 L1631.6,454.8 L1641.6,454.8 L1651.6,454.8 L1661.6,454.8 L1671.6,454.9 L1681.6,454.9 L1691.6,454.9 L1701.6,454.9 L1711.6,454.9 L1721.6,454.9 L1731.6,454.9 L1741.6,454.9 L1751.6,454.9 L1761.6,454.9 L1771.6,454.9 L1781.6,454.9 L1791.6,454.9 L1801.6,454.9 L1811.6,454.9 L1821.6,454.9 L1831.6,454.9 L1841.6,454.9 L1851.6,454.9 L1861.6,454.9 L1871.6,454.9 L1881.6,454.9 L1891.6,454.9 L1901.6,454.9 L1911.6,454.9 L1921.6,454.9 L1931.6,454.9 L1941.6,454.9 L1951.6,454.9 L1961.6,454.9 L1971.6,454.9 L1981.6,454.9 L1991.6,454.9 L2001.6,454.9 L2011.6,454.9 L2021.6,454.9 L2031.6,454.9 L2041.6,454.9 L2051.6,454.9 L2061.6,454.9 L2071.6,454.9"/>
<path stroke="#800000" d="M299.5,866.6 L728.6,866.6 L736.2,1245.3 L756.3,1249.1 L777.6,1344.4 L781.6,1345.6 L785.6,1346.8 L789.6,1347.9 L793.6,1349.0 L797.6,1350.2 L801.6,1351.3 L805.6,1352.4 L809.6,1353.5 L813.6,1354.6 L817.6,1355.7 L821.6,1356.7 L825.6,1357.8 L829.6,1358.9 L833.6,1359.9 L837.6,1361.0 L841.6,1362.0 L845.6,1363.0 L849.6,1364.0 L853.6,1365.0 L857.6,1366.0 L861.6,1367.0 L865.6,1368.0 L869.6,1369.0 L873.6,1370.0 L877.6,1370.9 L881.6,1371.9 L885.6,1372.8 L889.6,1373.7 L893.6,1374.7 L897.6,1375.6 L901.6,1376.5 L905.6,1377.4 L909.6,1378.3 L913.6,1379.2 L917.6,1380.0 L921.6,1380.9 L925.6,1381.7 L929.6,1382.6 L933.6,1383.4 L937.6,1384.3 L941.6,1385.1 L945.6,1385.9 L949.6,1386.7 L953.6,1387.5 L957.6,1388.3 L961.6,1389.1 L965.6,1389.8 L969.6,1390.6 L973.6,1391.4 L977.6,1392.1 L981.6,1392.8 L985.6,1393.6 L989.6,1394.3 L993.6,1395.0 L997.6,1395.7 L1001.6,1396.4 L1005.6,1397.1 L1009.6,1397.8 L1013.6,1398.4 L1017.6,1399.1 L1021.6,1399.7 L1025.6,1400.4 L1029.6,1401.0 L1033.6,1401.6 L1037.6,1402.3 L1041.6,1402.9 L1045.6,1403.5 L1049.6,1404.1 L1053.6,1404.7 L1057.6,1405.2 L1061.6,1405.8 L1065.6,1406.4 L1069.6,1406.9 L1073.6,1407.5 L1077.6,1408.0 L1081.6,1408.5 L1085.6,1409.0 L1089.6,1409.6 L1093.6,1410.1 L1097.6,1410.6 L1101.6,1411.0 L1105.6,1411.5 L1109.6,1412.0 L1113.6,1412.5 L1117.6,1412.9 L1121.6,1413.4 L1125.6,1413.8 L1129.6,1414.2 L1133.6,1414.7 L1137.6,1415.1 L1141.6,1415.5 L1145.6,1415.9 L1149.6,1416.3 L1153.6,1416.7 L1157.6,1417.1 L1161.6,1417.4 L1165.6,1417.8 L1169.6,1418.2 L1173.6,1418.5 L1177.6,1418.9 L1181.6,1419.2 L1185.6,1419.5 L1189.6,1419.8 L1193.6,1420.2 L1197.6,1420.5 L1201.6,1420.8 L1205.6,1421.1 L1209.6,1421.3 L1213.6,1421.6 L1217.6,1421.9 L1221.6,1422.2 L1225.6,1422.4 L1229.6,1422.7 L1233.6,1422.9 L1237.6,1423.2 L1241.6,1423.4 L1245.6,1423.7 L1249.6,1423.9 L1253.6,1424.1 L1257.6,1424.3 L1261.6,1424.5 L1265.6,1424.7 L1269.6,1424.9 L1273.6,1425.1 L1277.6,1425.3 L1281.6,1425.5 L1285.6,1425.7 L1289.6,1425.8 L1293.6,1426.0 L1297.6,1426.2 L1301.6,1426.3 L1311.6,1426.7 L1321.6,1427.0 L1331.6,1427.3 L1341.6,1427.6 L1351.6,1427.9 L1361.6,1428.2 L1371.6,1428.4 L1381.6,1428.6 L1391.6,1428.8 L1401.6,1428.9 L1411.6,1429.1 L1421.6,1429.2 L1431.6,1429.4 L1441.6,1429.5 L1451.6,1429.6 L1461.6,1429.7 L1471.6,1429.8 L1481.6,1429.8 L1491.6,1429.9 L1501.6,1430.0 L1511.6,1430.0 L1521.6,1430.1 L1531.6,1430.1 L1541.6,1430.1 L1551.6,1430.2 L1561.6,1430.2 L1571.6,1430.2 L1581.6,1430.2 L1591.6,1430.3 L1601.6,1430.3 L1611.6,1430.3 L1621.6,1430.3 L1631.6,1430.3 L1641.6,1430.3 L1651.6,1430.3 L1661.6,1430.3 L1671.6,1430.4 L1681.6,1430.4 L1691.6,1430.4 L1701.6,1430.4 L1711.6,1430.4 L1721.6,1430.4 L1731.6,1430.4 L1741.6,1430.4 L1751.6,1430.4 L1761.6,1430.4 L1771.6,1430.4 L1781.6,1430.4 L1791.6,1430.4 L1801.6,1430.4 L1811.6,1430.4 L1821.6,1430.4 L1831.6,1430.4 L1841.6,1430.4 L1851.6,1430.4 L1861.6,1430.4 L1871.6,1430.4 L1881.6,1430.4 L1891.6,1430.4 L1901.6,1430.4 L1911.6,1430.4 L1921.6,1430.4 L1931.6,1430.4 L1941.6,1430.4 L1951.6,1430.4 L1961.6,1430.4 L1971.6,1430.4 L1981.6,1430.4 L1991.6,1430.4 L2001.6,1430.4 L2011.6,1430.4 L2021.6,1430.4 L2031.6,1430.4 L2041.6,1430.4 L2051.6,1430.4 L2061.6,1430.4 L2071.6,1430.4"/>
<path stroke="#404040" d="M299.5,367.8 L729.0,367.8 L738.0,280.2 L756.2,283.2 L777.5,378.2 L781.5,379.3 L785.5,380.3 L789.5,381.4 L793.5,382.5 L797.5,383.5 L801.5,384.6 L805.5,385.6 L809.5,386.7 L813.5,387.7 L817.5,388.7 L821.5,389.7 L825.5,390.7 L829.5,391.7 L833.5,392.7 L837.5,393.6 L841.5,394.6 L845.5,395.6 L849.5,396.5 L853.5,397.4 L857.5,398.4 L861.5,399.3 L865.5,400.2 L869.5,401.1 L873.5,402.0 L877.5,402.9 L881.5,403.8 L885.5,404.6 L889.5,405.5 L893.5,406.4 L897.5,407.2 L901.5,408.0 L905.5,408.9 L909.5,409.7 L913.5,410.5 L917.5,411.3 L921.5,412.1 L925.5,412.9 L929.5,413.7 L933.5,414.4 L937.5,415.2 L941.5,415.9 L945.5,416.7 L949.5,417.4 L953.5,418.2 L957.5,418.9 L961.5,419.6 L965.5,420.3 L969.5,421.0 L973.5,421.7 L977.5,422.3 L981.5,423.0 L985.5,423.7 L989.5,424.3 L993.5,425.0 L997.5,425.6 L1001.5,426.2 L1005.5,426.8 L1009.5,427.4 L1013.5,428.0 L1017.5,428.6 L1021.5,429.2 L1025.5,429.8 L1029.5,430.4 L1033.5,430.9 L1037.5,431.5 L1041.5,432.0 L1045.5,432.6 L1049.5,433.1 L1053.5,433.6 L1057.5,434.1 L1061.5,434.6 L1065.5,435.1 L1069.5,435.6 L1073.5,436.1 L1077.5,436.5 L1081.5,437.0 L1085.5,437.5 L1089.5,437.9 L1093.5,438.3 L1097.5,438.8 L1101.5,439.2 L1105.5,439.6 L1109.5,440.0 L1113.5,440.4 L1117.5,440.8 L1121.5,441.2 L1125.5,441.6 L1129.5,442.0 L1133.5,442.3 L1137.5,442.7 L1141.5,443.0 L1145.5,443.4 L1149.5,443.7 L1153.5,444.0 L1157.5,444.4 L1161.5,444.7 L1165.5,445.0 L1169.5,445.3 L1173.5,445.6 L1177.5,445.9 L1181.5,446.2 L1185.5,446.4 L1189.5,446.7 L1193.5,447.0 L1197.5,447.2 L1201.5,447.5 L1205.5,447.7 L1209.5,447.9 L1213.5,448.2 L1217.5,448.4 L1221.5,448.6 L1225.5,448.8 L1229.5,449.0 L1233.5,449.2 L1237.5,449.4 L1241.5,449.6 L1245.5,449.8 L1249.5,450.0 L1253.5,450.2 L1257.5,450.3 L1261.5,450.5 L1265.5,450.7 L1269.5,450.8 L1273.5,451.0 L1277.5,451.1 L1281.5,451.3 L1285.5,451.4 L1289.5,451.5 L1293.5,451.7 L1297.5,451.8 L1301.5,451.9 L1311.5,452.2 L1321.5,452.5 L1331.5,452.7 L1341.5,452.9 L1351.5,453.1 L1361.5,453.3 L1371.5,453.5 L1381.5,453.6 L1391.5,453.8 L1401.5,453.9 L1411.5,454.0 L1421.5,454.1 L1431.5,454.2 L1441.5,454.3 L1451.5,454.3 L1461.5,454.4 L1471.5,454.5 L1481.5,454.5 L1491.5,454.6 L1501.5,454.6 L1511.5,454.6 L1521.5,454.7 L1531.5,454.7 L1541.5,454.7 L1551.5,454.7 L1561.5,454.8 L1571.5,454.8 L1581.5,454.8 L1591.5,454.8 L1601.5,454.8 L1611.5,454.8 L1621.5,454.8 L1631.5,454.8 L1641.5,454.9 L1651.5,454.9 L1661.5,454.9 L1671.5,454.9 L1681.5,454.9 L1691.5,454.9 L1701.5,454.9 L1711.5,454.9 L1721.5,454.9 L1731.5,454.9 L1741.5,454.9 L1751.5,454.9 L1761.5,454.9 L1771.5,454.9 L1781.5,454.9 L1791.5,454.9 L1801.5,454.9 L1811.5,454.9 L1821.5,454.9 L1831.5,454.9 L1841.5,454.9 L1851.5,454.9 L1861.5,454.9 L1871.5,454.9 L1881.5,454.9 L1891.5,454.9 L1901.5,454.9 L1911.5,454.9 L1921.5,454.9 L1931.5,454.9 L1941.5,454.9 L1951.5,454.9 L1961.5,454.9 L1971.5,454.9 L1981.5,454.9 L1991.5,454.9 L2001.5,454.9 L2011.5,454.9 L2021.5,454.9 L2031.5,454.9 L2041.5,454.9 L2051.5,454.9 L2061.5,454.9 L2071.5,454.9"/>
<path stroke="#404040" d="M299.5,876.7 L728.6,876.7 L736.2,1255.7 L756.2,1258.8 L777.5,1353.7 L781.5,1354.8 L785.5,1355.8 L789.5,1356.9 L793.5,1358.0 L797.5,1359.0 L801.5,1360.1 L805.5,1361.1 L809.5,1362.2 L813.5,1363.2 L817.5,1364.2 L821.5,1365.2 L825.5,1366.2 L829.5,1367.2 L833.5,1368.2 L837.5,1369.1 L841.5,1370.1 L845.5,1371.1 L849.5,1372.0 L853.5,1372.9 L857.5,1373.9 L861.5,1374.8 L865.5,1375.7 L869.5,1376.6 L873.5,1377.5 L877.5,1378.4 L881.5,1379.3 L885.5,1380.1 L889.5,1381.0 L893.5,1381.9 L897.5,1382.7 L901.5,1383.5 L905.5,1384.4 L909.5,1385.2 L913.5,1386.0 L917.5,1386.8 L921.5,1387.6 L925.5,1388.4 L929.5,1389.2 L933.5,1389.9 L937.5,1390.7 L941.5,1391.4 L945.5,1392.2 L949.5,1392.9 L953.5,1393.7 L957.5,1394.4 L961.5,1395.1 L965.5,1395.8 L969.5,1396.5 L973.5,1397.2 L977.5,1397.8 L981.5,1398.5 L985.5,1399.2 L989.5,1399.8 L993.5,1400.5 L997.5,1401.1 L1001.5,1401.7 L1005.5,1402.3 L1009.5,1402.9 L1013.5,1403.5 L1017.5,1404.1 L1021.5,1404.7 L1025.5,1405.3 L1029.5,1405.9 L1033.5,1406.4 L1037.5,1407.0 L1041.5,1407.5 L1045.5,1408.1 L1049.5,1408.6 L1053.5,1409.1 L1057.5,1409.6 L1061.5,1410.1 L1065.5,1410.6 L1069.5,1411.1 L1073.5,1411.6 L1077.5,1412.0 L1081.5,1412.5 L1085.5,1413.0 L1089.5,1413.4 L1093.5,1413.8 L1097.5,1414.3 L1101.5,1414.7 L1105.5,1415.1 L1109.5,1415.5 L1113.5,1415.9 L1117.5,1416.3 L1121.5,1416.7 L1125.5,1417.1 L1129.5,1417.5 L1133.5,1417.8 L1137.5,1418.2 L1141.5,1418.5 L1145.5,1418.9 L1149.5,1419.2 L1153.5,1419.5 L1157.5,1419.9 L1161.5,1420.2 L1165.5,1420.5 L1169.5,1420.8 L1173.5,1421.1 L1177.5,1421.4 L1181.5,1421.7 L1185.5,1421.9 L1189.5,1422.2 L1193.5,1422.5 L1197.5,1422.7 L1201.5,1423.0 L1205.5,1423.2 L1209.5,1423.4 L1213.5,1423.7 L1217.5,1423.9 L1221.5,1424.1 L1225.5,1424.3 L1229.5,1424.5 L1233.5,1424.7 L1237.5,1424.9 L1241.5,1425.1 L1245.5,1425.3 L1249.5,1425.5 L1253.5,1425.7 L1257.5,1425.8 L1261.5,1426.0 L1265.5,1426.2 L1269.5,1426.3 L1273.5,1426.5 L1277.5,1426.6 L1281.5,1426.8 L1285.5,1426.9 L1289.5,1427.0 L1293.5,1427.2 L1297.5,1427.3 L1301.5,1427.4 L1311.5,1427.7 L1321.5,1428.0 L1331.5,1428.2 L1341.5,1428.4 L1351.5,1428.6 L1361.5,1428.8 L1371.5,1429.0 L1381.5,1429.1 L1391.5,1429.3 L1401.5,1429.4 L1411.5,1429.5 L1421.5,1429.6 L1431.5,1429.7 L1441.5,1429.8 L1451.5,1429.8 L1461.5,1429.9 L1471.5,1430.0 L1481.5,1430.0 L1491.5,1430.1 L1501.5,1430.1 L1511.5,1430.1 L1521.5,1430.2 L1531.5,1430.2 L1541.5,1430.2 L1551.5,1430.2 L1561.5,1430.3 L1571.5,1430.3 L1581.5,1430.3 L1591.5,1430.3 L1601.5,1430.3 L1611.5,1430.3 L1621.5,1430.3 L1631.5,1430.3 L1641.5,1430.4 L1651.5,1430.4 L1661.5,1430.4 L1671.5,1430.4 L1681.5,1430.4 L1691.5,1430.4 L1701.5,1430.4 L1711.5,1430.4 L1721.5,1430.4 L1731.5,1430.4 L1741.5,1430.4 L1751.5,1430.4 L1761.5,1430.4 L1771.5,1430.4 L1781.5,1430.4 L1791.5,1430.4 L1801.5,1430.4 L1811.5,1430.4 L1821.5,1430.4 L1831.5,1430.4 L1841.5,1430.4 L1851.5,1430.4 L1861.5,1430.4 L1871.5,1430.4 L1881.5,1430.4 L1891.5,1430.4 L1901.5,1430.4 L1911.5,1430.4 L1921.5,1430.4 L1931.5,1430.4 L1941.5,1430.4 L1951.5,1430.4 L1961.5,1430.4 L1971.5,1430.4 L1981.5,1430.4 L1991.5,1430.4 L2001.5,1430.4 L2011.5,1430.4 L2021.5,1430.4 L2031.5,1430.4 L2041.5,1430.4 L2051.5,1430.4 L2061.5,1430.4 L2071.5,1430.4"/>
<path stroke="#004874" d="M299.5,378.0 L729.0,378.0 L738.2,290.5 L756.2,292.9 L777.4,387.4 L781.4,388.4 L785.4,389.4 L789.4,390.4 L793.4,391.4 L797.4,392.4 L801.4,393.4 L805.4,394.3 L809.4,395.3 L813.4,396.2 L817.4,397.2 L821.4,398.1 L825.4,399.0 L829.4,399.9 L833.4,400.8 L837.4,401.7 L841.4,402.6 L845.4,403.5 L849.4,404.4 L853.4,405.2 L857.4,406.1 L861.4,406.9 L865.4,407.8 L869.4,408.6 L873.4,409.4 L877.4,410.3 L881.4,411.1 L885.4,411.9 L889.4,412.6 L893.4,413.4 L897.4,414.2 L901.4,415.0 L905.4,415.7 L909.4,416.4 L913.4,417.2 L917.4,417.9 L921.4,418.6 L925.4,419.3 L929.4,420.0 L933.4,420.7 L937.4,421.4 L941.4,422.1 L945.4,422.8 L949.4,423.4 L953.4,424.1 L957.4,424.7 L961.4,425.4 L965.4,426.0 L969.4,426.6 L973.4,427.2 L977.4,427.8 L981.4,428.4 L985.4,429.0 L989.4,429.6 L993.4,430.2 L997.4,430.7 L1001.4,431.3 L1005.4,431.8 L1009.4,432.4 L1013.4,432.9 L1017.4,433.4 L1021.4,433.9 L1025.4,434.4 L1029.4,434.9 L1033.4,435.4 L1037.4,435.9 L1041.4,436.4 L1045.4,436.8 L1049.4,437.3 L1053.4,437.7 L1057.4,438.2 L1061.4,438.6 L1065.4,439.0 L1069.4,439.5 L1073.4,439.9 L1077.4,440.3 L1081.4,440.7 L1085.4,441.1 L1089.4,441.4 L1093.4,441.8 L1097.4,442.2 L1101.4,442.5 L1105.4,442.9 L1109.4,443.2 L1113.4,443.6 L1117.4,443.9 L1121.4,444.2 L1125.4,444.6 L1129.4,444.9 L1133.4,445.2 L1137.4,445.5 L1141.4,445.8 L1145.4,446.0 L1149.4,446.3 L1153.4,446.6 L1157.4,446.9 L1161.4,447.1 L1165.4,447.4 L1169.4,447.6 L1173.4,447.8 L1177.4,448.1 L1181.4,448.3 L1185.4,448.5 L1189.4,448.7 L1193.4,449.0 L1197.4,449.2 L1201.4,449.4 L1205.4,449.6 L1209.4,449.7 L1213.4,449.9 L1217.4,450.1 L1221.4,450.3 L1225.4,450.4 L1229.4,450.6 L1233.4,450.8 L1237.4,450.9 L1241.4,451.1 L1245.4,451.2 L1249.4,451.3 L1253.4,451.5 L1257.4,451.6 L1261.4,451.7 L1265.4,451.9 L1269.4,452.0 L1273.4,452.1 L1277.4,452.2 L1281.4,452.3 L1285.4,452.4 L1289.4,452.5 L1293.4,452.6 L1297.4,452.7 L1301.4,452.8 L1311.4,453.0 L1321.4,453.2 L1331.4,453.4 L1341.4,453.5 L1351.4,453.7 L1361.4,453.8 L1371.4,453.9 L1381.4,454.0 L1391.4,454.1 L1401.4,454.2 L1411.4,454.3 L1421.4,454.4 L1431.4,454.4 L1441.4,454.5 L1451.4,454.5 L1461.4,454.6 L1471.4,454.6 L1481.4,454.7 L1491.4,454.7 L1501.4,454.7 L1511.4,454.7 L1521.4,454.8 L1531.4,454.8 L1541.4,454.8 L1551.4,454.8 L1561.4,454.8 L1571.4,454.8 L1581.4,454.8 L1591.4,454.8 L1601.4,454.8 L1611.4,454.9 L1621.4,454.9 L1631.4,454.9 L1641.4,454.9 L1651.4,454.9 L1661.4,454.9 L1671.4,454.9 L1681.4,454.9 L1691.4,454.9 L1701.4,454.9 L1711.4,454.9 L1721.4,454.9 L1731.4,454.9 L1741.4,454.9 L1751.4,454.9 L1761.4,454.9 L1771.4,454.9 L1781.4,454.9 L1791.4,454.9 L1801.4,454.9 L1811.4,454.9 L1821.4,454.9 L1831.4,454.9 L1841.4,454.9 L1851.4,454.9 L1861.4,454.9 L1871.4,454.9 L1881.4,454.9 L1891.4,454.9 L1901.4,454.9 L1911.4,454.9 L1921.4,454.9 L1931.4,454.9 L1941.4,454.9 L1951.4,454.9 L1961.4,454.9 L1971.4,454.9 L1981.4,454.9 L1991.4,454.9 L2001.4,454.9 L2011.4,454.9 L2021.4,454.9 L2031.4,454.9 L2041.4,454.9 L2051.4,454.9 L2061.4,454.9 L2071.4,454.9"/>
<path stroke="#004874" d="M299.5,886.9 L728.5,886.9 L736.2,1266.0 L756.2,1268.4 L777.4,1362.9 L781.4,1363.9 L785.4,1364.9 L789.4,1365.9 L793.4,1366.9 L797.4,1367.9 L801.4,1368.9 L805.4,1369.8 L809.4,1370.8 L813.4,1371.7 L817.4,1372.7 L821.4,1373.6 L825.4,1374.5 L829.4,1375.4 L833.4,1376.3 L837.4,1377.2 L841.4,1378.1 L845.4,1379.0 L849.4,1379.9 L853.4,1380.7 L857.4,1381.6 L861.4,1382.4 L865.4,1383.3 L869.4,1384.1 L873.4,1384.9 L877.4,1385.8 L881.4,1386.6 L885.4,1387.4 L889.4,1388.1 L893.4,1388.9 L897.4,1389.7 L901.4,1390.5 L905.4,1391.2 L909.4,1391.9 L913.4,1392.7 L917.4,1393.4 L921.4,1394.1 L925.4,1394.8 L929.4,1395.5 L933.4,1396.2 L937.4,1396.9 L941.4,1397.6 L945.4,1398.3 L949.4,1398.9 L953.4,1399.6 L957.4,1400.2 L961.4,1400.9 L965.4,1401.5 L969.4,1402.1 L973.4,1402.7 L977.4,1403.3 L981.4,1403.9 L985.4,1404.5 L989.4,1405.1 L993.4,1405.7 L997.4,1406.2 L1001.4,1406.8 L1005.4,1407.3 L1009.4,1407.9 L1013.4,1408.4 L1017.4,1408.9 L1021.4,1409.4 L1025.4,1409.9 L1029.4,1410.4 L1033.4,1410.9 L1037.4,1411.4 L1041.4,1411.9 L1045.4,1412.3 L1049.4,1412.8 L1053.4,1413.2 L1057.4,1413.7 L1061.4,1414.1 L1065.4,1414.5 L1069.4,1415.0 L1073.4,1415.4 L1077.4,1415.8 L1081.4,1416.2 L1085.4,1416.6 L1089.4,1416.9 L1093.4,1417.3 L1097.4,1417.7 L1101.4,1418.0 L1105.4,1418.4 L1109.4,1418.7 L1113.4,1419.1 L1117.4,1419.4 L1121.4,1419.7 L1125.4,1420.1 L1129.4,1420.4 L1133.4,1420.7 L1137.4,1421.0 L1141.4,1421.3 L1145.4,1421.5 L1149.4,1421.8 L1153.4,1422.1 L1157.4,1422.4 L1161.4,1422.6 L1165.4,1422.9 L1169.4,1423.1 L1173.4,1423.3 L1177.4,1423.6 L1181.4,1423.8 L1185.4,1424.0 L1189.4,1424.2 L1193.4,1424.5 L1197.4,1424.7 L1201.4,1424.9 L1205.4,1425.1 L1209.4,1425.2 L1213.4,1425.4 L1217.4,1425.6 L1221.4,1425.8 L1225.4,1425.9 L1229.4,1426.1 L1233.4,1426.3 L1237.4,1426.4 L1241.4,1426.6 L1245.4,1426.7 L1249.4,1426.8 L1253.4,1427.0 L1257.4,1427.1 L1261.4,1427.2 L1265.4,1427.4 L1269.4,1427.5 L1273.4,1427.6 L1277.4,1427.7 L1281.4,1427.8 L1285.4,1427.9 L1289.4,1428.0 L1293.4,1428.1 L1297.4,1428.2 L1301.4,1428.3 L1311.4,1428.5 L1321.4,1428.7 L1331.4,1428.9 L1341.4,1429.0 L1351.4,1429.2 L1361.4,1429.3 L1371.4,1429.4 L1381.4,1429.5 L1391.4,1429.6 L1401.4,1429.7 L1411.4,1429.8 L1421.4,1429.9 L1431.4,1429.9 L1441.4,1430.0 L1451.4,1430.0 L1461.4,1430.1 L1471.4,1430.1 L1481.4,1430.2 L1491.4,1430.2 L1501.4,1430.2 L1511.4,1430.2 L1521.4,1430.3 L1531.4,1430.3 L1541.4,1430.3 L1551.4,1430.3 L1561.4,1430.3 L1571.4,1430.3 L1581.4,1430.3 L1591.4,1430.3 L1601.4,1430.3 L1611.4,1430.4 L1621.4,1430.4 L1631.4,1430.4 L1641.4,1430.4 L1651.4,1430.4 L1661.4,1430.4 L1671.4,1430.4 L1681.4,1430.4 L1691.4,1430.4 L1701.4,1430.4 L1711.4,1430.4 L1721.4,1430.4 L1731.4,1430.4 L1741.4,1430.4 L1751.4,1430.4 L1761.4,1430.4 L1771.4,1430.4 L1781.4,1430.4 L1791.4,1430.4 L1801.4,1430.4 L1811.4,1430.4 L1821.4,1430.4 L1831.4,1430.4 L1841.4,1430.4 L1851.4,1430.4 L1861.4,1430.4 L1871.4,1430.4 L1881.4,1430.4 L1891.4,1430.4 L1901.4,1430.4 L1911.4,1430.4 L1921.4,1430.4 L1931.4,1430.4 L1941.4,1430.4 L1951.4,1430.4 L1961.4,1430.4 L1971.4,1430.4 L1981.4,1430.4 L1991.4,1430.4 L2001.4,1430.4 L2011.4,1430.4 L2021.4,1430.4 L2031.4,1430.4 L2041.4,1430.4 L2051.4,1430.4 L2061.4,1430.4 L2071.4,1430.4"/>
</g>
<g stroke="#000" stroke-width="5.2" fill="none" stroke-linecap="square">
<path d="M292.7,73.5 H2063.9 V1501.9 H292.7 Z"/>
</g>
<path stroke="#000" stroke-width="5.2" fill="none" d="M265,1501.8 H292.7 M2063.9,1501.8 H2036 M265,1297.8 H292.7 M2063.9,1297.8 H2036 M265,1093.7 H292.7 M2063.9,1093.7 H2036 M265,889.7 H292.7 M2063.9,889.7 H2036 M265,685.6 H292.7 M2063.9,685.6 H2036 M265,481.6 H292.7 M2063.9,481.6 H2036 M265,277.6 H292.7 M2063.9,277.6 H2036 M265,73.5 H292.7 M2063.9,73.5 H2036 M279,1399.8 H292.7 M2063.9,1399.8 H2050 M279,1195.7 H292.7 M2063.9,1195.7 H2050 M279,991.7 H292.7 M2063.9,991.7 H2050 M279,787.7 H292.7 M2063.9,787.7 H2050 M279,583.6 H292.7 M2063.9,583.6 H2050 M279,379.6 H292.7 M2063.9,379.6 H2050 M279,175.5 H292.7 M2063.9,175.5 H2050 M292.7,1501.9 V1529.5 M292.7,73.5 V100 M735.5,1501.9 V1529.5 M735.5,73.5 V100 M1178.3,1501.9 V1529.5 M1178.3,73.5 V100 M1621.1,1501.9 V1529.5 M1621.1,73.5 V100 M2063.9,1501.9 V1529.5 M2063.9,73.5 V100 M514.1,1501.9 V1515.5 M514.1,73.5 V86 M956.9,1501.9 V1515.5 M956.9,73.5 V86 M1399.7,1501.9 V1515.5 M1399.7,73.5 V86 M1842.5,1501.9 V1515.5 M1842.5,73.5 V86"/>
<g class="ser" font-size="77" fill="#000" text-anchor="end">
<text x="244.3" y="1522.0">-5</text>
<text x="244.3" y="1318.0">-4</text>
<text x="244.3" y="1113.9">-3</text>
<text x="244.3" y="909.9">-2</text>
<text x="244.3" y="705.8">-1</text>
<text x="244.3" y="501.8">0</text>
<text x="244.3" y="297.8">1</text>
<text x="244.3" y="93.7">2</text>
</g>
<g class="ser" font-size="76.5" fill="#000" text-anchor="middle" letter-spacing="-0.6">
<text x="292.2" y="1606.6">0.0</text>
<text x="735.0" y="1606.6">0.1</text>
<text x="1177.8" y="1606.6">0.2</text>
<text x="1620.6" y="1606.6">0.3</text>
<text x="2063.4" y="1606.6">0.4</text>
</g>
<text class="ser" font-size="85" transform="translate(972.1,1753) scale(0.856,1)" x="0" y="0">D</text>
<text class="ser" font-size="85" x="1027.8 1068.4 1115.1 1143.1 1187.1 1209.4 1237.9 1287.8 1355.5" y="1753">epth (μm)</text>
<text class="ser" font-size="85" transform="translate(94.2,745.7) rotate(-90) translate(-211.9,0) scale(1.251,1)" x="0" y="0">E</text>
<text class="ser" font-size="85" transform="translate(94.2,745.7) rotate(-90)" x="-145.25 -101.8 -65.06 -42.05 -1.4 33.45 64.75 92.67 130.63 183.38" y="0">nergy (eV)</text>
<text class="san" font-weight="bold" font-size="43" x="1159.4" y="164.3" letter-spacing="0.45">IZTO workfunction (eV):</text>
<g stroke-width="10.3" stroke-linecap="round">
<path stroke="#000000" d="M1160.0,203.3 H1256.6"/>
<path stroke="#FF0000" d="M1160.0,258.6 H1256.6"/>
<path stroke="#00FF00" d="M1160.0,313.6 H1256.6"/>
<path stroke="#0000FF" d="M1377.8,203.3 H1474.4"/>
<path stroke="#008000" d="M1377.8,258.6 H1474.4"/>
<path stroke="#FF8000" d="M1377.8,313.6 H1474.4"/>
<path stroke="#FF0080" d="M1595.7,203.3 H1692.3"/>
<path stroke="#800080" d="M1595.7,258.6 H1692.3"/>
<path stroke="#800000" d="M1595.7,313.6 H1692.3"/>
<path stroke="#404040" d="M1826.4,203.3 H1923.0"/>
<path stroke="#004874" d="M1826.4,258.6 H1923.0"/>
</g>
<g class="san" font-weight="bold" font-size="43" fill="#000" letter-spacing="0.8">
<text x="1280.4" y="217.9">5</text>
<text x="1280.4" y="273.2">4.95</text>
<text x="1280.4" y="328.2">4.90</text>
<text x="1498.2" y="217.9">4.85</text>
<text x="1498.2" y="273.2">4.80</text>
<text x="1498.2" y="328.2">4.75</text>
<text x="1716.1" y="217.9">4.70</text>
<text x="1716.1" y="273.2">4.65</text>
<text x="1716.1" y="328.2">4.60</text>
<text x="1946.8" y="217.9">4.55</text>
<text x="1946.8" y="273.2">4.5</text>
</g>
<path fill="none" stroke="#00DC00" stroke-width="10.5" stroke-linecap="butt" d="M718.6,131.7 L733,136 C791.1,153.5 938.3,322.7 1377.5,408.3"/>
<path fill="#00DC00" stroke="#00DC00" stroke-width="10" stroke-linejoin="round" d="M689,127.5 L743.9,107.6 L724,131.2 L737,159.7 Z"/>
<g fill="#00DC00" stroke="#000" stroke-width="1.8">
<ellipse cx="1418.2" cy="416.8" rx="13.9" ry="15.7"/>
<ellipse cx="1456.1" cy="379.4" rx="13.9" ry="15.7"/>
<ellipse cx="1507.5" cy="348.2" rx="13.9" ry="15.7"/>
<ellipse cx="1507.5" cy="400.0" rx="13.9" ry="15.7"/>
<ellipse cx="1597.0" cy="358.1" rx="13.9" ry="15.7"/>
<ellipse cx="1607.1" cy="413.3" rx="13.9" ry="15.7"/>
<ellipse cx="1692.3" cy="362.3" rx="13.9" ry="15.7"/>
<ellipse cx="1665.2" cy="416.8" rx="13.9" ry="15.7"/>
<ellipse cx="1713.2" cy="427.2" rx="13.9" ry="15.7"/>
<ellipse cx="1750.6" cy="385.7" rx="13.9" ry="15.7"/>
</g>
<path fill="none" stroke="#000" stroke-width="7" stroke-linecap="butt" d="M461.9,529 L436.1,236"/>
<path fill="#000" stroke="#000" stroke-width="7" stroke-linejoin="round" d="M433.5,209.7 L453.7,243 L435,232.8 L419.5,245.4 Z"/>
<text class="san" font-size="62" x="487.3" y="483.5" letter-spacing="-0.33">Increasing IZTO</text>
<text class="san" font-size="62" x="539.3" y="574.1" letter-spacing="-0.65">workfuncion</text>
<text class="ser" font-size="75" x="390.2" y="629.3" letter-spacing="0.4">IZTO</text>
<text class="san" font-size="77" x="1263.7" y="892.5"><tspan class="ser">β</tspan><tspan dx="0.7">-</tspan><tspan dx="0.8">G</tspan><tspan dx="-2.2">a</tspan><tspan font-size="51" dy="19" dx="-0.8">2</tspan><tspan dy="-19" dx="-1.5">O</tspan><tspan font-size="51" dy="19" dx="-1.8">3</tspan></text>
</svg></body></html>
